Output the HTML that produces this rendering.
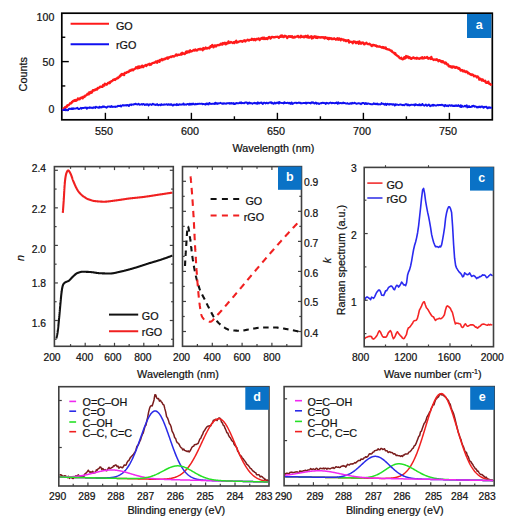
<!DOCTYPE html>
<html><head><meta charset="utf-8"><style>
html,body{margin:0;padding:0;background:#fff;}
body{width:512px;height:521px;overflow:hidden;}
svg{display:block;}
text{font-family:"Liberation Sans", sans-serif;}
</style></head><body>
<svg width="512" height="521" viewBox="0 0 512 521">
<rect width="512" height="521" fill="#fff"/>
<rect x="61.80" y="13.20" width="430.50" height="106.60" fill="none" stroke="#000" stroke-width="1.7"/>
<line x1="61.80" y1="110.30" x2="68.80" y2="110.30" stroke="#000" stroke-width="1.4" />
<line x1="61.80" y1="85.95" x2="65.30" y2="85.95" stroke="#000" stroke-width="1.4" />
<line x1="61.80" y1="61.60" x2="68.80" y2="61.60" stroke="#000" stroke-width="1.4" />
<line x1="61.80" y1="37.25" x2="65.30" y2="37.25" stroke="#000" stroke-width="1.4" />
<line x1="105.40" y1="119.80" x2="105.40" y2="112.80" stroke="#000" stroke-width="1.4" />
<line x1="148.40" y1="119.80" x2="148.40" y2="116.30" stroke="#000" stroke-width="1.4" />
<line x1="191.40" y1="119.80" x2="191.40" y2="112.80" stroke="#000" stroke-width="1.4" />
<line x1="234.40" y1="119.80" x2="234.40" y2="116.30" stroke="#000" stroke-width="1.4" />
<line x1="277.40" y1="119.80" x2="277.40" y2="112.80" stroke="#000" stroke-width="1.4" />
<line x1="320.40" y1="119.80" x2="320.40" y2="116.30" stroke="#000" stroke-width="1.4" />
<line x1="363.40" y1="119.80" x2="363.40" y2="112.80" stroke="#000" stroke-width="1.4" />
<line x1="406.40" y1="119.80" x2="406.40" y2="116.30" stroke="#000" stroke-width="1.4" />
<line x1="449.40" y1="119.80" x2="449.40" y2="112.80" stroke="#000" stroke-width="1.4" />
<path d="M62.30,110.20 L62.90,109.82 L63.50,108.92 L64.10,108.01 L64.70,107.74 L65.30,106.90 L65.90,107.03 L66.50,107.30 L67.10,105.72 L67.70,105.18 L68.30,105.39 L68.90,104.87 L69.50,104.29 L70.10,103.25 L70.70,103.39 L71.30,103.44 L71.90,101.84 L72.50,102.02 L73.10,100.81 L73.70,100.86 L74.30,100.23 L74.90,100.92 L75.50,100.03 L76.10,100.71 L76.70,100.40 L77.30,99.95 L77.90,98.32 L78.50,99.27 L79.10,99.32 L79.70,99.17 L80.30,97.91 L80.90,98.26 L81.50,97.66 L82.10,97.44 L82.70,98.22 L83.30,96.74 L83.90,96.83 L84.50,97.00 L85.10,95.72 L85.70,95.60 L86.30,95.32 L86.90,94.88 L87.50,93.69 L88.10,94.05 L88.70,94.40 L89.30,92.25 L89.90,93.28 L90.50,92.44 L91.10,91.59 L91.70,92.79 L92.30,91.68 L92.90,90.15 L93.50,90.58 L94.10,90.55 L94.70,89.77 L95.30,89.99 L95.90,89.23 L96.50,89.37 L97.10,89.54 L97.70,87.98 L98.30,88.22 L98.90,87.54 L99.50,87.61 L100.10,86.54 L100.70,86.62 L101.30,86.57 L101.90,86.94 L102.50,86.79 L103.10,85.02 L103.70,85.04 L104.30,85.60 L104.90,83.70 L105.50,84.31 L106.10,84.21 L106.70,84.70 L107.30,84.04 L107.90,83.10 L108.50,82.75 L109.10,82.49 L109.70,83.22 L110.30,81.72 L110.90,81.46 L111.50,81.52 L112.10,80.89 L112.70,80.51 L113.30,79.62 L113.90,79.94 L114.50,79.34 L115.10,79.96 L115.70,79.31 L116.30,78.56 L116.90,78.63 L117.50,77.67 L118.10,78.14 L118.70,77.14 L119.30,77.11 L119.90,75.61 L120.50,76.22 L121.10,74.62 L121.70,74.03 L122.30,74.69 L122.90,73.97 L123.50,74.24 L124.10,75.14 L124.70,72.95 L125.30,72.74 L125.90,72.92 L126.50,72.79 L127.10,72.10 L127.70,71.80 L128.30,72.07 L128.90,71.69 L129.50,70.49 L130.10,70.81 L130.70,70.62 L131.30,69.72 L131.90,70.26 L132.50,69.35 L133.10,70.21 L133.70,69.51 L134.30,69.22 L134.90,68.59 L135.50,68.65 L136.10,67.31 L136.70,67.61 L137.30,68.30 L137.90,66.59 L138.50,68.17 L139.10,66.42 L139.70,67.73 L140.30,66.58 L140.90,67.37 L141.50,66.80 L142.10,65.62 L142.70,67.12 L143.30,67.07 L143.90,65.99 L144.50,65.70 L145.10,65.60 L145.70,64.94 L146.30,66.02 L146.90,64.87 L147.50,64.99 L148.10,64.37 L148.70,64.29 L149.30,63.72 L149.90,65.05 L150.50,64.01 L151.10,64.49 L151.70,63.72 L152.30,63.09 L152.90,63.10 L153.50,62.76 L154.10,62.89 L154.70,62.45 L155.30,62.28 L155.90,61.42 L156.50,61.55 L157.10,62.81 L157.70,61.20 L158.30,60.75 L158.90,61.37 L159.50,61.80 L160.10,59.87 L160.70,60.40 L161.30,59.93 L161.90,59.04 L162.50,60.33 L163.10,59.66 L163.70,59.50 L164.30,58.79 L164.90,59.30 L165.50,58.48 L166.10,58.50 L166.70,57.70 L167.30,57.42 L167.90,58.74 L168.50,57.42 L169.10,57.68 L169.70,57.27 L170.30,56.82 L170.90,56.57 L171.50,57.06 L172.10,56.30 L172.70,56.19 L173.30,56.11 L173.90,56.61 L174.50,56.13 L175.10,55.77 L175.70,55.03 L176.30,54.36 L176.90,55.58 L177.50,55.42 L178.10,54.58 L178.70,54.82 L179.30,54.80 L179.90,54.66 L180.50,54.55 L181.10,53.56 L181.70,54.59 L182.30,52.77 L182.90,53.88 L183.50,53.50 L184.10,53.58 L184.70,54.03 L185.30,53.64 L185.90,51.91 L186.50,51.44 L187.10,52.79 L187.70,51.55 L188.30,52.01 L188.90,52.38 L189.50,50.75 L190.10,50.33 L190.70,51.61 L191.30,51.35 L191.90,51.04 L192.50,51.08 L193.10,50.41 L193.70,49.89 L194.30,50.56 L194.90,49.95 L195.50,49.42 L196.10,50.58 L196.70,50.12 L197.30,50.27 L197.90,49.31 L198.50,49.38 L199.10,49.06 L199.70,49.01 L200.30,49.54 L200.90,48.84 L201.50,49.41 L202.10,49.29 L202.70,50.20 L203.30,48.04 L203.90,49.30 L204.50,48.60 L205.10,48.54 L205.70,47.56 L206.30,48.05 L206.90,48.65 L207.50,48.04 L208.10,48.01 L208.70,47.66 L209.30,48.40 L209.90,47.56 L210.50,46.11 L211.10,46.86 L211.70,45.93 L212.30,44.98 L212.90,46.43 L213.50,47.36 L214.10,46.39 L214.70,45.46 L215.30,45.39 L215.90,46.43 L216.50,45.64 L217.10,45.38 L217.70,45.12 L218.30,44.98 L218.90,45.26 L219.50,44.93 L220.10,44.56 L220.70,43.65 L221.30,44.44 L221.90,43.59 L222.50,44.54 L223.10,43.00 L223.70,43.57 L224.30,43.55 L224.90,42.66 L225.50,44.39 L226.10,44.14 L226.70,42.89 L227.30,43.54 L227.90,43.22 L228.50,41.34 L229.10,42.98 L229.70,42.71 L230.30,42.71 L230.90,41.93 L231.50,42.33 L232.10,42.31 L232.70,43.04 L233.30,42.44 L233.90,42.15 L234.50,42.99 L235.10,41.65 L235.70,41.66 L236.30,40.72 L236.90,42.67 L237.50,42.22 L238.10,42.11 L238.70,41.87 L239.30,41.45 L239.90,41.44 L240.50,41.07 L241.10,41.02 L241.70,41.09 L242.30,41.89 L242.90,41.23 L243.50,40.78 L244.10,40.39 L244.70,40.28 L245.30,41.54 L245.90,40.81 L246.50,40.47 L247.10,40.14 L247.70,39.61 L248.30,40.16 L248.90,40.65 L249.50,39.82 L250.10,39.84 L250.70,39.77 L251.30,39.90 L251.90,38.81 L252.50,39.55 L253.10,39.11 L253.70,40.08 L254.30,39.02 L254.90,39.76 L255.50,40.26 L256.10,39.08 L256.70,38.84 L257.30,39.25 L257.90,39.06 L258.50,38.39 L259.10,39.19 L259.70,40.05 L260.30,38.61 L260.90,38.57 L261.50,37.99 L262.10,38.74 L262.70,37.72 L263.30,37.73 L263.90,39.09 L264.50,37.70 L265.10,38.82 L265.70,39.01 L266.30,38.18 L266.90,38.29 L267.50,39.06 L268.10,37.70 L268.70,37.40 L269.30,36.88 L269.90,37.66 L270.50,38.46 L271.10,38.08 L271.70,36.88 L272.30,36.86 L272.90,37.00 L273.50,37.41 L274.10,37.05 L274.70,37.23 L275.30,37.21 L275.90,36.79 L276.50,36.89 L277.10,36.98 L277.70,36.75 L278.30,37.05 L278.90,37.83 L279.50,37.03 L280.10,36.67 L280.70,35.61 L281.30,36.84 L281.90,35.43 L282.50,35.76 L283.10,37.12 L283.70,37.04 L284.30,36.54 L284.90,35.62 L285.50,36.44 L286.10,36.28 L286.70,37.09 L287.30,38.09 L287.90,36.89 L288.50,36.31 L289.10,36.10 L289.70,36.79 L290.30,36.74 L290.90,36.17 L291.50,36.94 L292.10,36.20 L292.70,37.56 L293.30,37.54 L293.90,37.55 L294.50,36.61 L295.10,37.20 L295.70,36.81 L296.30,36.64 L296.90,36.66 L297.50,36.08 L298.10,35.98 L298.70,37.31 L299.30,36.70 L299.90,36.94 L300.50,37.39 L301.10,35.74 L301.70,36.29 L302.30,36.86 L302.90,36.98 L303.50,36.50 L304.10,37.34 L304.70,36.84 L305.30,35.98 L305.90,36.14 L306.50,37.18 L307.10,36.98 L307.70,35.57 L308.30,37.54 L308.90,37.11 L309.50,37.58 L310.10,36.58 L310.70,36.67 L311.30,36.21 L311.90,38.46 L312.50,36.88 L313.10,37.99 L313.70,36.70 L314.30,37.24 L314.90,36.20 L315.50,37.02 L316.10,37.90 L316.70,36.61 L317.30,38.06 L317.90,37.66 L318.50,36.88 L319.10,37.25 L319.70,37.32 L320.30,37.62 L320.90,37.37 L321.50,37.24 L322.10,37.60 L322.70,37.22 L323.30,37.11 L323.90,37.90 L324.50,38.51 L325.10,37.11 L325.70,38.09 L326.30,37.75 L326.90,37.60 L327.50,38.76 L328.10,37.99 L328.70,39.25 L329.30,37.94 L329.90,38.70 L330.50,38.39 L331.10,38.14 L331.70,39.00 L332.30,38.62 L332.90,39.14 L333.50,38.81 L334.10,38.25 L334.70,38.91 L335.30,39.07 L335.90,39.68 L336.50,38.63 L337.10,39.23 L337.70,38.29 L338.30,39.79 L338.90,38.83 L339.50,38.47 L340.10,39.60 L340.70,40.39 L341.30,38.90 L341.90,39.25 L342.50,39.55 L343.10,39.42 L343.70,40.44 L344.30,39.85 L344.90,40.02 L345.50,40.93 L346.10,40.26 L346.70,41.11 L347.30,40.41 L347.90,40.40 L348.50,40.17 L349.10,42.52 L349.70,41.35 L350.30,41.82 L350.90,41.78 L351.50,42.02 L352.10,42.07 L352.70,43.30 L353.30,41.63 L353.90,41.41 L354.50,41.83 L355.10,41.71 L355.70,43.04 L356.30,43.16 L356.90,42.16 L357.50,41.97 L358.10,42.66 L358.70,43.77 L359.30,41.31 L359.90,43.38 L360.50,42.48 L361.10,43.81 L361.70,42.61 L362.30,43.15 L362.90,42.48 L363.50,42.87 L364.10,44.36 L364.70,44.10 L365.30,43.45 L365.90,43.25 L366.50,42.73 L367.10,43.73 L367.70,44.05 L368.30,44.13 L368.90,44.24 L369.50,43.74 L370.10,44.50 L370.70,44.64 L371.30,45.57 L371.90,46.05 L372.50,44.99 L373.10,44.76 L373.70,45.33 L374.30,45.15 L374.90,45.23 L375.50,45.79 L376.10,45.36 L376.70,46.51 L377.30,46.24 L377.90,46.61 L378.50,46.52 L379.10,46.35 L379.70,46.38 L380.30,46.97 L380.90,46.95 L381.50,47.58 L382.10,47.61 L382.70,46.96 L383.30,48.00 L383.90,47.33 L384.50,47.95 L385.10,48.34 L385.70,47.47 L386.30,48.97 L386.90,49.22 L387.50,49.26 L388.10,49.34 L388.70,49.61 L389.30,49.51 L389.90,50.20 L390.50,50.32 L391.10,51.04 L391.70,50.64 L392.30,51.93 L392.90,52.32 L393.50,52.61 L394.10,52.90 L394.70,53.96 L395.30,53.09 L395.90,54.81 L396.50,55.12 L397.10,55.65 L397.70,56.26 L398.30,56.19 L398.90,56.97 L399.50,58.00 L400.10,58.31 L400.70,58.52 L401.30,57.71 L401.90,59.02 L402.50,59.36 L403.10,59.16 L403.70,58.53 L404.30,57.26 L404.90,58.55 L405.50,57.68 L406.10,56.06 L406.70,57.65 L407.30,56.43 L407.90,56.52 L408.50,56.95 L409.10,58.16 L409.70,57.27 L410.30,57.77 L410.90,58.78 L411.50,58.80 L412.10,57.89 L412.70,57.89 L413.30,57.33 L413.90,57.69 L414.50,58.37 L415.10,58.36 L415.70,58.19 L416.30,58.73 L416.90,57.67 L417.50,58.11 L418.10,58.58 L418.70,58.50 L419.30,58.79 L419.90,58.39 L420.50,57.97 L421.10,58.37 L421.70,57.56 L422.30,57.18 L422.90,58.51 L423.50,58.13 L424.10,58.36 L424.70,57.16 L425.30,57.96 L425.90,57.83 L426.50,57.68 L427.10,56.86 L427.70,58.03 L428.30,58.80 L428.90,58.54 L429.50,58.00 L430.10,58.42 L430.70,58.95 L431.30,56.92 L431.90,58.59 L432.50,59.09 L433.10,59.28 L433.70,60.00 L434.30,59.77 L434.90,59.40 L435.50,59.52 L436.10,59.94 L436.70,59.28 L437.30,59.72 L437.90,60.42 L438.50,61.20 L439.10,60.09 L439.70,60.35 L440.30,60.71 L440.90,61.64 L441.50,61.08 L442.10,62.25 L442.70,61.09 L443.30,61.87 L443.90,62.18 L444.50,63.10 L445.10,63.60 L445.70,62.42 L446.30,63.21 L446.90,64.47 L447.50,64.40 L448.10,64.39 L448.70,66.36 L449.30,66.36 L449.90,66.57 L450.50,66.16 L451.10,67.22 L451.70,66.59 L452.30,67.51 L452.90,66.41 L453.50,66.55 L454.10,67.28 L454.70,66.84 L455.30,67.77 L455.90,67.63 L456.50,67.05 L457.10,67.80 L457.70,67.72 L458.30,68.68 L458.90,67.98 L459.50,68.36 L460.10,69.62 L460.70,70.54 L461.30,70.70 L461.90,69.87 L462.50,70.29 L463.10,71.42 L463.70,70.76 L464.30,70.59 L464.90,71.58 L465.50,72.11 L466.10,71.66 L466.70,71.47 L467.30,71.88 L467.90,73.42 L468.50,72.84 L469.10,73.48 L469.70,73.96 L470.30,74.47 L470.90,74.16 L471.50,74.92 L472.10,74.35 L472.70,74.93 L473.30,74.79 L473.90,76.35 L474.50,75.92 L475.10,75.76 L475.70,76.26 L476.30,76.61 L476.90,77.44 L477.50,76.34 L478.10,76.96 L478.70,77.64 L479.30,79.67 L479.90,79.01 L480.50,78.66 L481.10,79.44 L481.70,80.54 L482.30,79.46 L482.90,79.67 L483.50,80.92 L484.10,80.80 L484.70,81.21 L485.30,80.82 L485.90,82.60 L486.50,82.80 L487.10,82.45 L487.70,82.87 L488.30,81.60 L488.90,83.56 L489.50,83.43 L490.10,84.19 L490.70,84.72 L491.30,84.50 L491.90,84.09" fill="none" stroke="#ff1a1a" stroke-width="2.3" stroke-linejoin="round"/>
<path d="M62.30,110.55 L62.90,110.01 L63.50,110.08 L64.10,109.88 L64.70,109.89 L65.30,109.01 L65.90,110.33 L66.50,109.86 L67.10,110.11 L67.70,110.37 L68.30,109.51 L68.90,108.69 L69.50,108.97 L70.10,108.77 L70.70,108.97 L71.30,109.13 L71.90,108.22 L72.50,109.08 L73.10,108.27 L73.70,108.92 L74.30,108.69 L74.90,108.55 L75.50,108.58 L76.10,108.33 L76.70,108.24 L77.30,107.76 L77.90,108.36 L78.50,109.06 L79.10,109.06 L79.70,108.75 L80.30,108.46 L80.90,107.86 L81.50,108.67 L82.10,108.03 L82.70,107.99 L83.30,107.87 L83.90,107.98 L84.50,107.74 L85.10,107.85 L85.70,107.42 L86.30,107.67 L86.90,108.70 L87.50,107.73 L88.10,107.64 L88.70,107.92 L89.30,107.97 L89.90,107.21 L90.50,107.55 L91.10,107.97 L91.70,107.69 L92.30,107.61 L92.90,108.16 L93.50,107.24 L94.10,107.52 L94.70,107.26 L95.30,108.04 L95.90,106.64 L96.50,107.13 L97.10,107.16 L97.70,107.62 L98.30,107.57 L98.90,107.86 L99.50,106.65 L100.10,107.56 L100.70,107.12 L101.30,106.95 L101.90,107.41 L102.50,106.81 L103.10,106.32 L103.70,106.99 L104.30,106.52 L104.90,106.84 L105.50,107.23 L106.10,107.18 L106.70,107.67 L107.30,106.93 L107.90,106.38 L108.50,106.66 L109.10,106.57 L109.70,106.43 L110.30,107.06 L110.90,106.60 L111.50,106.03 L112.10,107.06 L112.70,106.69 L113.30,106.84 L113.90,106.69 L114.50,106.85 L115.10,106.56 L115.70,106.99 L116.30,106.61 L116.90,106.53 L117.50,106.48 L118.10,105.67 L118.70,106.13 L119.30,106.03 L119.90,106.15 L120.50,105.46 L121.10,106.59 L121.70,105.91 L122.30,105.32 L122.90,105.05 L123.50,105.55 L124.10,105.56 L124.70,105.24 L125.30,105.50 L125.90,105.14 L126.50,105.55 L127.10,104.98 L127.70,105.19 L128.30,105.53 L128.90,106.11 L129.50,104.62 L130.10,104.78 L130.70,104.57 L131.30,105.17 L131.90,104.34 L132.50,104.56 L133.10,104.69 L133.70,104.27 L134.30,104.24 L134.90,104.39 L135.50,103.71 L136.10,103.94 L136.70,104.32 L137.30,104.52 L137.90,104.37 L138.50,103.72 L139.10,104.23 L139.70,104.72 L140.30,104.62 L140.90,104.37 L141.50,104.05 L142.10,104.65 L142.70,104.17 L143.30,103.94 L143.90,104.09 L144.50,104.99 L145.10,104.50 L145.70,104.88 L146.30,104.23 L146.90,104.80 L147.50,104.19 L148.10,104.37 L148.70,105.44 L149.30,104.75 L149.90,104.25 L150.50,104.42 L151.10,104.59 L151.70,104.95 L152.30,104.28 L152.90,103.79 L153.50,104.38 L154.10,104.50 L154.70,104.55 L155.30,105.03 L155.90,104.64 L156.50,104.85 L157.10,104.09 L157.70,104.88 L158.30,105.38 L158.90,104.85 L159.50,104.65 L160.10,104.62 L160.70,105.28 L161.30,104.20 L161.90,104.53 L162.50,104.76 L163.10,104.88 L163.70,104.41 L164.30,104.71 L164.90,104.48 L165.50,104.64 L166.10,104.54 L166.70,104.14 L167.30,104.59 L167.90,104.95 L168.50,104.21 L169.10,104.50 L169.70,104.86 L170.30,104.17 L170.90,104.67 L171.50,104.17 L172.10,105.04 L172.70,105.50 L173.30,105.38 L173.90,104.48 L174.50,104.85 L175.10,104.60 L175.70,104.58 L176.30,105.15 L176.90,103.99 L177.50,104.93 L178.10,104.48 L178.70,105.05 L179.30,104.54 L179.90,104.19 L180.50,104.55 L181.10,104.72 L181.70,104.43 L182.30,104.59 L182.90,104.17 L183.50,103.51 L184.10,104.71 L184.70,104.61 L185.30,104.37 L185.90,104.33 L186.50,104.69 L187.10,104.08 L187.70,103.96 L188.30,104.15 L188.90,104.68 L189.50,103.64 L190.10,104.65 L190.70,103.90 L191.30,103.70 L191.90,104.62 L192.50,104.06 L193.10,103.56 L193.70,103.92 L194.30,104.42 L194.90,104.50 L195.50,103.84 L196.10,104.16 L196.70,104.26 L197.30,103.70 L197.90,104.08 L198.50,103.91 L199.10,103.69 L199.70,103.70 L200.30,103.91 L200.90,103.88 L201.50,103.62 L202.10,103.66 L202.70,104.27 L203.30,103.89 L203.90,104.15 L204.50,104.26 L205.10,104.01 L205.70,104.67 L206.30,103.41 L206.90,104.05 L207.50,103.59 L208.10,104.45 L208.70,104.37 L209.30,102.90 L209.90,103.28 L210.50,103.92 L211.10,103.95 L211.70,103.92 L212.30,103.58 L212.90,103.78 L213.50,103.84 L214.10,103.54 L214.70,103.97 L215.30,102.64 L215.90,103.78 L216.50,103.10 L217.10,103.89 L217.70,103.40 L218.30,103.12 L218.90,103.62 L219.50,103.09 L220.10,103.08 L220.70,102.81 L221.30,103.41 L221.90,103.61 L222.50,103.81 L223.10,103.33 L223.70,103.80 L224.30,103.38 L224.90,103.32 L225.50,103.58 L226.10,103.77 L226.70,103.20 L227.30,103.23 L227.90,103.26 L228.50,103.35 L229.10,102.95 L229.70,103.71 L230.30,103.14 L230.90,103.48 L231.50,102.96 L232.10,103.43 L232.70,103.43 L233.30,103.10 L233.90,104.08 L234.50,103.41 L235.10,103.97 L235.70,103.64 L236.30,102.98 L236.90,103.09 L237.50,103.41 L238.10,103.26 L238.70,103.25 L239.30,103.11 L239.90,102.50 L240.50,103.12 L241.10,102.32 L241.70,103.35 L242.30,102.91 L242.90,102.91 L243.50,103.10 L244.10,103.30 L244.70,102.61 L245.30,102.48 L245.90,102.75 L246.50,102.35 L247.10,102.78 L247.70,103.80 L248.30,102.73 L248.90,103.41 L249.50,102.60 L250.10,103.27 L250.70,103.01 L251.30,103.11 L251.90,103.36 L252.50,103.83 L253.10,103.20 L253.70,103.17 L254.30,102.73 L254.90,103.35 L255.50,103.01 L256.10,103.44 L256.70,103.09 L257.30,103.80 L257.90,102.30 L258.50,102.98 L259.10,103.44 L259.70,102.95 L260.30,102.77 L260.90,102.97 L261.50,102.53 L262.10,103.12 L262.70,104.05 L263.30,103.53 L263.90,102.62 L264.50,102.71 L265.10,102.90 L265.70,103.46 L266.30,102.73 L266.90,102.78 L267.50,103.40 L268.10,103.39 L268.70,102.90 L269.30,102.60 L269.90,102.42 L270.50,102.76 L271.10,102.14 L271.70,103.33 L272.30,102.78 L272.90,103.22 L273.50,103.77 L274.10,103.49 L274.70,102.56 L275.30,103.37 L275.90,103.48 L276.50,102.72 L277.10,102.64 L277.70,102.97 L278.30,102.37 L278.90,103.60 L279.50,102.05 L280.10,102.57 L280.70,102.90 L281.30,102.92 L281.90,103.07 L282.50,103.11 L283.10,102.92 L283.70,103.46 L284.30,102.15 L284.90,103.00 L285.50,102.72 L286.10,103.05 L286.70,103.09 L287.30,102.64 L287.90,102.74 L288.50,103.32 L289.10,103.14 L289.70,102.73 L290.30,103.82 L290.90,103.92 L291.50,102.42 L292.10,103.12 L292.70,104.00 L293.30,103.31 L293.90,103.09 L294.50,102.92 L295.10,102.79 L295.70,102.92 L296.30,102.78 L296.90,103.30 L297.50,102.85 L298.10,102.83 L298.70,102.53 L299.30,102.99 L299.90,102.65 L300.50,102.94 L301.10,103.43 L301.70,103.16 L302.30,103.22 L302.90,103.16 L303.50,103.04 L304.10,102.97 L304.70,102.90 L305.30,103.33 L305.90,102.59 L306.50,103.56 L307.10,103.04 L307.70,102.73 L308.30,102.84 L308.90,102.76 L309.50,103.10 L310.10,102.75 L310.70,103.50 L311.30,102.73 L311.90,102.14 L312.50,102.76 L313.10,102.25 L313.70,103.04 L314.30,103.48 L314.90,103.32 L315.50,102.53 L316.10,102.76 L316.70,103.78 L317.30,103.20 L317.90,103.08 L318.50,103.50 L319.10,104.06 L319.70,103.60 L320.30,103.14 L320.90,103.23 L321.50,103.34 L322.10,102.85 L322.70,102.68 L323.30,103.12 L323.90,102.73 L324.50,103.09 L325.10,103.15 L325.70,104.05 L326.30,102.78 L326.90,103.08 L327.50,103.06 L328.10,103.31 L328.70,103.56 L329.30,102.94 L329.90,102.82 L330.50,102.49 L331.10,102.78 L331.70,103.37 L332.30,103.18 L332.90,102.76 L333.50,103.02 L334.10,103.19 L334.70,103.38 L335.30,102.95 L335.90,103.09 L336.50,102.46 L337.10,102.74 L337.70,103.85 L338.30,102.33 L338.90,103.07 L339.50,103.30 L340.10,103.07 L340.70,102.90 L341.30,103.20 L341.90,103.23 L342.50,103.20 L343.10,102.49 L343.70,103.19 L344.30,102.91 L344.90,103.04 L345.50,103.35 L346.10,103.52 L346.70,103.63 L347.30,103.08 L347.90,103.65 L348.50,103.76 L349.10,103.75 L349.70,103.85 L350.30,103.24 L350.90,103.24 L351.50,103.64 L352.10,102.77 L352.70,103.41 L353.30,103.12 L353.90,103.20 L354.50,102.66 L355.10,103.01 L355.70,103.36 L356.30,103.74 L356.90,103.79 L357.50,103.37 L358.10,103.34 L358.70,103.10 L359.30,103.60 L359.90,103.35 L360.50,103.71 L361.10,104.18 L361.70,103.48 L362.30,102.91 L362.90,103.18 L363.50,102.95 L364.10,103.07 L364.70,104.09 L365.30,103.67 L365.90,102.99 L366.50,103.88 L367.10,104.14 L367.70,103.50 L368.30,103.40 L368.90,103.55 L369.50,103.81 L370.10,103.97 L370.70,104.21 L371.30,104.24 L371.90,104.25 L372.50,104.33 L373.10,104.07 L373.70,103.21 L374.30,103.79 L374.90,103.99 L375.50,103.73 L376.10,104.26 L376.70,103.77 L377.30,103.57 L377.90,104.53 L378.50,104.24 L379.10,104.08 L379.70,104.38 L380.30,104.46 L380.90,104.19 L381.50,103.09 L382.10,103.82 L382.70,103.92 L383.30,103.73 L383.90,104.22 L384.50,104.64 L385.10,103.99 L385.70,103.74 L386.30,105.03 L386.90,104.05 L387.50,103.76 L388.10,104.36 L388.70,104.46 L389.30,104.02 L389.90,104.64 L390.50,104.14 L391.10,103.98 L391.70,104.44 L392.30,104.69 L392.90,104.15 L393.50,104.55 L394.10,104.39 L394.70,105.58 L395.30,104.18 L395.90,105.03 L396.50,104.47 L397.10,104.45 L397.70,104.80 L398.30,104.89 L398.90,105.05 L399.50,104.69 L400.10,104.33 L400.70,104.36 L401.30,104.80 L401.90,104.84 L402.50,105.17 L403.10,104.80 L403.70,105.06 L404.30,105.26 L404.90,104.73 L405.50,104.08 L406.10,104.21 L406.70,104.12 L407.30,105.34 L407.90,104.38 L408.50,105.22 L409.10,104.98 L409.70,105.44 L410.30,105.17 L410.90,104.73 L411.50,104.71 L412.10,104.83 L412.70,104.88 L413.30,104.61 L413.90,104.82 L414.50,105.48 L415.10,104.17 L415.70,104.97 L416.30,104.51 L416.90,104.96 L417.50,105.23 L418.10,104.88 L418.70,105.23 L419.30,104.29 L419.90,105.38 L420.50,104.71 L421.10,105.21 L421.70,105.05 L422.30,103.95 L422.90,104.70 L423.50,105.10 L424.10,105.65 L424.70,105.15 L425.30,105.15 L425.90,104.50 L426.50,105.65 L427.10,105.81 L427.70,105.11 L428.30,105.03 L428.90,104.48 L429.50,105.49 L430.10,106.24 L430.70,105.46 L431.30,105.69 L431.90,105.41 L432.50,104.82 L433.10,105.76 L433.70,104.75 L434.30,105.17 L434.90,105.38 L435.50,105.64 L436.10,105.47 L436.70,105.47 L437.30,105.03 L437.90,104.83 L438.50,105.39 L439.10,105.10 L439.70,104.87 L440.30,104.90 L440.90,105.23 L441.50,104.70 L442.10,104.92 L442.70,104.82 L443.30,105.56 L443.90,105.67 L444.50,106.33 L445.10,104.94 L445.70,105.29 L446.30,105.94 L446.90,105.51 L447.50,105.48 L448.10,106.31 L448.70,105.51 L449.30,105.20 L449.90,105.16 L450.50,105.83 L451.10,105.84 L451.70,105.19 L452.30,105.36 L452.90,105.99 L453.50,106.03 L454.10,105.56 L454.70,106.08 L455.30,106.08 L455.90,105.16 L456.50,105.77 L457.10,106.08 L457.70,105.70 L458.30,105.10 L458.90,105.86 L459.50,106.30 L460.10,106.65 L460.70,105.16 L461.30,107.10 L461.90,105.63 L462.50,106.49 L463.10,106.62 L463.70,106.54 L464.30,106.23 L464.90,105.73 L465.50,106.47 L466.10,105.96 L466.70,105.26 L467.30,107.42 L467.90,106.60 L468.50,107.06 L469.10,106.00 L469.70,106.97 L470.30,107.05 L470.90,107.06 L471.50,106.46 L472.10,106.01 L472.70,106.45 L473.30,105.67 L473.90,105.90 L474.50,106.65 L475.10,106.24 L475.70,106.61 L476.30,106.66 L476.90,107.51 L477.50,107.29 L478.10,106.78 L478.70,107.32 L479.30,106.56 L479.90,106.77 L480.50,107.31 L481.10,106.48 L481.70,106.90 L482.30,106.52 L482.90,107.13 L483.50,107.78 L484.10,106.86 L484.70,107.29 L485.30,106.88 L485.90,106.82 L486.50,106.82 L487.10,107.94 L487.70,108.34 L488.30,107.63 L488.90,107.19 L489.50,107.80 L490.10,107.42 L490.70,107.92 L491.30,107.75 L491.90,107.79" fill="none" stroke="#1010f0" stroke-width="1.9" stroke-linejoin="round"/>
<text x="54.30" y="20.70" font-size="10.6" text-anchor="end" fill="#111" stroke="#111" stroke-width="0.22" >100</text>
<text x="54.30" y="66.20" font-size="10.6" text-anchor="end" fill="#111" stroke="#111" stroke-width="0.22" >50</text>
<text x="54.30" y="112.60" font-size="10.6" text-anchor="end" fill="#111" stroke="#111" stroke-width="0.22" >0</text>
<text x="103.90" y="134.90" font-size="10.8" text-anchor="middle" fill="#111" stroke="#111" stroke-width="0.22" >550</text>
<text x="189.90" y="134.90" font-size="10.8" text-anchor="middle" fill="#111" stroke="#111" stroke-width="0.22" >600</text>
<text x="275.90" y="134.90" font-size="10.8" text-anchor="middle" fill="#111" stroke="#111" stroke-width="0.22" >650</text>
<text x="361.90" y="134.90" font-size="10.8" text-anchor="middle" fill="#111" stroke="#111" stroke-width="0.22" >700</text>
<text x="447.90" y="134.90" font-size="10.8" text-anchor="middle" fill="#111" stroke="#111" stroke-width="0.22" >750</text>
<text x="273.40" y="151.80" font-size="10.8" text-anchor="middle" fill="#111" stroke="#111" stroke-width="0.22" >Wavelength (nm)</text>
<text transform="translate(26.7,74.3) rotate(-90)" font-size="10.8" text-anchor="middle" fill="#111" stroke="#111" stroke-width="0.22">Counts</text>
<line x1="70.60" y1="23.70" x2="109.00" y2="23.70" stroke="#ff1a1a" stroke-width="2" />
<line x1="70.60" y1="44.30" x2="109.00" y2="44.30" stroke="#1010f0" stroke-width="2" />
<text x="115.90" y="30.00" font-size="10.8" text-anchor="start" fill="#111" stroke="#111" stroke-width="0.22" >GO</text>
<text x="115.90" y="49.10" font-size="10.8" text-anchor="start" fill="#111" stroke="#111" stroke-width="0.22" >rGO</text>
<rect x="467.00" y="14.00" width="24.30" height="24.00" fill="#0a72c6"/>
<text x="479.20" y="29.20" font-size="12.5" font-weight="bold" text-anchor="middle" fill="#fff">a</text>
<path d="M62.80,212.90 L62.83,212.50 L62.86,212.10 L62.89,211.70 L62.92,211.30 L62.96,210.91 L62.99,210.51 L63.02,210.11 L63.05,209.71 L63.08,209.31 L63.11,208.91 L63.14,208.51 L63.17,208.11 L63.20,207.72 L63.23,207.32 L63.26,206.92 L63.29,206.52 L63.32,206.12 L63.34,205.72 L63.37,205.32 L63.40,204.92 L63.43,204.52 L63.46,204.12 L63.49,203.73 L63.52,203.33 L63.54,202.93 L63.57,202.53 L63.60,202.13 L63.63,201.73 L63.66,201.33 L63.68,200.93 L63.71,200.53 L63.74,200.13 L63.76,199.74 L63.79,199.34 L63.82,198.94 L63.84,198.54 L63.87,198.14 L63.89,197.74 L63.92,197.34 L63.94,196.94 L63.96,196.54 L63.98,196.14 L64.01,195.74 L64.03,195.34 L64.05,194.94 L64.07,194.54 L64.09,194.14 L64.11,193.74 L64.13,193.34 L64.15,192.94 L64.18,192.54 L64.20,192.14 L64.22,191.74 L64.24,191.34 L64.26,190.94 L64.28,190.54 L64.31,190.15 L64.33,189.75 L64.35,189.35 L64.38,188.95 L64.40,188.55 L64.43,188.15 L64.45,187.75 L64.48,187.35 L64.51,186.95 L64.54,186.55 L64.57,186.16 L64.60,185.76 L64.63,185.36 L64.66,184.96 L64.69,184.56 L64.73,184.17 L64.76,183.77 L64.80,183.36 L64.84,182.96 L64.87,182.56 L64.91,182.15 L64.95,181.74 L64.99,181.34 L65.03,180.93 L65.07,180.52 L65.12,180.12 L65.16,179.71 L65.21,179.31 L65.26,178.90 L65.31,178.50 L65.37,178.10 L65.43,177.70 L65.49,177.30 L65.55,176.91 L65.62,176.52 L65.69,176.13 L65.76,175.74 L65.84,175.36 L65.92,174.98 L66.00,174.60 L66.09,174.23 L66.18,173.86 L66.29,173.48 L66.43,173.05 L66.61,172.60 L66.80,172.14 L67.02,171.69 L67.25,171.29 L67.48,170.93 L67.72,170.65 L67.96,170.47 L68.19,170.40 L68.43,170.47 L68.68,170.67 L68.95,170.97 L69.22,171.33 L69.48,171.74 L69.73,172.16 L69.96,172.55 L70.16,172.91 L70.34,173.25 L70.52,173.59 L70.69,173.95 L70.85,174.31 L71.00,174.67 L71.15,175.04 L71.29,175.41 L71.43,175.79 L71.57,176.17 L71.70,176.55 L71.83,176.93 L71.96,177.31 L72.09,177.70 L72.22,178.08 L72.34,178.47 L72.47,178.86 L72.60,179.24 L72.74,179.62 L72.87,180.00 L73.01,180.38 L73.15,180.76 L73.30,181.13 L73.46,181.50 L73.62,181.87 L73.78,182.23 L73.93,182.60 L74.09,182.98 L74.25,183.35 L74.41,183.72 L74.57,184.09 L74.74,184.47 L74.90,184.84 L75.06,185.21 L75.23,185.58 L75.40,185.95 L75.57,186.32 L75.74,186.69 L75.91,187.06 L76.09,187.42 L76.27,187.78 L76.45,188.14 L76.64,188.50 L76.82,188.85 L77.02,189.20 L77.21,189.54 L77.41,189.88 L77.62,190.22 L77.82,190.55 L78.04,190.87 L78.25,191.19 L78.48,191.51 L78.71,191.82 L78.95,192.13 L79.20,192.43 L79.46,192.74 L79.72,193.04 L80.00,193.34 L80.28,193.63 L80.56,193.92 L80.86,194.21 L81.15,194.49 L81.45,194.77 L81.76,195.04 L82.06,195.31 L82.37,195.56 L82.68,195.82 L82.99,196.06 L83.30,196.30 L83.62,196.54 L83.94,196.77 L84.27,197.00 L84.60,197.23 L84.94,197.46 L85.28,197.68 L85.62,197.89 L85.97,198.10 L86.32,198.30 L86.68,198.50 L87.04,198.68 L87.40,198.85 L87.76,199.02 L88.12,199.17 L88.48,199.31 L88.85,199.45 L89.22,199.59 L89.60,199.73 L89.98,199.86 L90.36,199.99 L90.74,200.12 L91.13,200.24 L91.52,200.36 L91.91,200.47 L92.30,200.58 L92.69,200.68 L93.08,200.77 L93.48,200.86 L93.87,200.93 L94.26,201.00 L94.66,201.06 L95.05,201.11 L95.44,201.15 L95.84,201.19 L96.23,201.23 L96.63,201.27 L97.02,201.31 L97.42,201.35 L97.82,201.39 L98.22,201.42 L98.62,201.46 L99.02,201.49 L99.42,201.52 L99.82,201.55 L100.22,201.57 L100.63,201.60 L101.03,201.62 L101.43,201.64 L101.83,201.66 L102.23,201.67 L102.63,201.68 L103.03,201.69 L103.43,201.70 L103.83,201.70 L104.23,201.70 L104.63,201.69 L105.03,201.68 L105.43,201.67 L105.82,201.64 L106.22,201.62 L106.62,201.59 L107.02,201.56 L107.42,201.52 L107.82,201.48 L108.21,201.44 L108.61,201.39 L109.01,201.34 L109.41,201.29 L109.81,201.24 L110.20,201.19 L110.60,201.14 L111.00,201.08 L111.40,201.03 L111.79,200.97 L112.19,200.92 L112.59,200.86 L112.99,200.81 L113.38,200.75 L113.78,200.70 L114.18,200.65 L114.57,200.60 L114.97,200.56 L115.37,200.51 L115.76,200.46 L116.16,200.40 L116.56,200.35 L116.95,200.30 L117.35,200.24 L117.75,200.19 L118.14,200.13 L118.54,200.07 L118.93,200.01 L119.33,199.96 L119.73,199.90 L120.12,199.84 L120.52,199.78 L120.91,199.72 L121.31,199.66 L121.70,199.60 L122.10,199.54 L122.49,199.48 L122.89,199.41 L123.29,199.35 L123.68,199.29 L124.08,199.23 L124.47,199.17 L124.87,199.11 L125.26,199.06 L125.66,199.00 L126.06,198.94 L126.45,198.88 L126.85,198.83 L127.24,198.77 L127.64,198.72 L128.04,198.66 L128.43,198.61 L128.83,198.56 L129.23,198.51 L129.62,198.46 L130.02,198.41 L130.42,198.37 L130.81,198.32 L131.21,198.27 L131.61,198.23 L132.01,198.18 L132.40,198.14 L132.80,198.10 L133.20,198.06 L133.60,198.01 L133.99,197.97 L134.39,197.93 L134.79,197.89 L135.19,197.85 L135.59,197.81 L135.99,197.77 L136.38,197.73 L136.78,197.69 L137.18,197.65 L137.58,197.60 L137.98,197.56 L138.37,197.52 L138.77,197.48 L139.17,197.44 L139.57,197.40 L139.96,197.36 L140.36,197.31 L140.76,197.27 L141.16,197.23 L141.56,197.18 L141.95,197.13 L142.35,197.09 L142.75,197.04 L143.14,196.99 L143.54,196.95 L143.94,196.90 L144.33,196.84 L144.73,196.79 L145.13,196.74 L145.52,196.69 L145.92,196.63 L146.32,196.58 L146.71,196.52 L147.11,196.47 L147.50,196.41 L147.90,196.35 L148.29,196.29 L148.69,196.23 L149.09,196.18 L149.48,196.12 L149.88,196.06 L150.27,195.99 L150.67,195.93 L151.06,195.87 L151.46,195.81 L151.85,195.75 L152.25,195.69 L152.64,195.63 L153.04,195.56 L153.43,195.50 L153.83,195.44 L154.23,195.38 L154.62,195.32 L155.02,195.25 L155.41,195.19 L155.81,195.13 L156.20,195.07 L156.60,195.01 L156.99,194.95 L157.39,194.88 L157.78,194.82 L158.18,194.76 L158.57,194.70 L158.97,194.64 L159.37,194.58 L159.76,194.53 L160.16,194.47 L160.55,194.41 L160.95,194.35 L161.34,194.29 L161.74,194.23 L162.13,194.17 L162.53,194.11 L162.93,194.05 L163.32,193.99 L163.72,193.93 L164.11,193.87 L164.51,193.81 L164.90,193.75 L165.30,193.69 L165.69,193.63 L166.09,193.57 L166.48,193.51 L166.88,193.45 L167.28,193.39 L167.67,193.33 L168.07,193.27 L168.46,193.21 L168.86,193.15 L169.25,193.09 L169.65,193.03 L170.04,192.97 L170.44,192.91 L170.84,192.85 L171.23,192.79 L171.63,192.73 L172.02,192.67 L172.42,192.61" fill="none" stroke="#f02020" stroke-width="2.1" stroke-linejoin="round"/>
<path d="M56.30,338.50 L56.40,338.11 L56.49,337.72 L56.59,337.33 L56.69,336.94 L56.78,336.55 L56.87,336.16 L56.96,335.77 L57.05,335.38 L57.13,334.99 L57.21,334.60 L57.29,334.21 L57.36,333.82 L57.43,333.42 L57.50,333.03 L57.56,332.64 L57.61,332.24 L57.67,331.85 L57.72,331.45 L57.78,331.06 L57.83,330.66 L57.88,330.26 L57.93,329.87 L57.98,329.47 L58.02,329.07 L58.07,328.68 L58.11,328.28 L58.16,327.88 L58.20,327.48 L58.24,327.08 L58.29,326.69 L58.33,326.29 L58.37,325.89 L58.41,325.49 L58.44,325.09 L58.48,324.69 L58.52,324.29 L58.56,323.90 L58.60,323.50 L58.64,323.10 L58.67,322.70 L58.71,322.30 L58.75,321.90 L58.79,321.50 L58.82,321.10 L58.86,320.71 L58.90,320.31 L58.94,319.91 L58.98,319.51 L59.02,319.11 L59.06,318.71 L59.10,318.32 L59.14,317.92 L59.17,317.52 L59.21,317.12 L59.25,316.72 L59.29,316.33 L59.33,315.93 L59.36,315.53 L59.40,315.13 L59.44,314.73 L59.47,314.33 L59.51,313.94 L59.54,313.54 L59.58,313.14 L59.62,312.74 L59.65,312.34 L59.69,311.94 L59.72,311.55 L59.76,311.15 L59.79,310.75 L59.83,310.35 L59.86,309.95 L59.90,309.55 L59.94,309.15 L59.97,308.76 L60.01,308.36 L60.04,307.96 L60.08,307.56 L60.11,307.16 L60.15,306.76 L60.19,306.37 L60.22,305.97 L60.26,305.57 L60.30,305.17 L60.33,304.77 L60.37,304.37 L60.41,303.98 L60.44,303.58 L60.48,303.18 L60.52,302.78 L60.56,302.38 L60.60,301.98 L60.63,301.59 L60.67,301.19 L60.70,300.79 L60.74,300.39 L60.78,299.99 L60.81,299.59 L60.85,299.19 L60.88,298.79 L60.92,298.40 L60.96,298.00 L60.99,297.60 L61.03,297.20 L61.07,296.80 L61.11,296.40 L61.15,296.01 L61.19,295.61 L61.23,295.21 L61.28,294.81 L61.32,294.42 L61.37,294.02 L61.42,293.62 L61.47,293.23 L61.52,292.83 L61.57,292.43 L61.63,292.03 L61.68,291.62 L61.73,291.22 L61.78,290.81 L61.84,290.40 L61.90,289.99 L61.96,289.58 L62.02,289.17 L62.09,288.76 L62.15,288.36 L62.23,287.96 L62.31,287.57 L62.39,287.18 L62.48,286.79 L62.57,286.41 L62.67,286.04 L62.78,285.68 L62.89,285.32 L63.01,284.97 L63.16,284.63 L63.36,284.28 L63.59,283.94 L63.85,283.61 L64.13,283.29 L64.43,282.99 L64.72,282.72 L65.02,282.48 L65.33,282.28 L65.67,282.09 L66.04,281.93 L66.41,281.77 L66.80,281.62 L67.19,281.48 L67.58,281.33 L67.96,281.17 L68.32,281.00 L68.66,280.81 L68.98,280.59 L69.28,280.35 L69.58,280.10 L69.86,279.82 L70.14,279.54 L70.42,279.24 L70.69,278.94 L70.96,278.63 L71.23,278.32 L71.50,278.02 L71.78,277.72 L72.06,277.42 L72.34,277.14 L72.64,276.87 L72.94,276.60 L73.23,276.32 L73.53,276.03 L73.83,275.75 L74.13,275.46 L74.43,275.17 L74.73,274.89 L75.04,274.62 L75.35,274.35 L75.67,274.10 L75.99,273.86 L76.31,273.63 L76.64,273.43 L76.97,273.24 L77.31,273.08 L77.66,272.94 L78.02,272.80 L78.39,272.66 L78.76,272.52 L79.15,272.39 L79.54,272.27 L79.93,272.15 L80.33,272.05 L80.73,271.95 L81.13,271.88 L81.54,271.82 L81.94,271.77 L82.33,271.75 L82.73,271.75 L83.12,271.75 L83.52,271.76 L83.92,271.76 L84.31,271.77 L84.71,271.78 L85.11,271.79 L85.51,271.80 L85.92,271.82 L86.32,271.83 L86.72,271.85 L87.12,271.86 L87.52,271.88 L87.92,271.90 L88.33,271.92 L88.73,271.94 L89.13,271.96 L89.53,271.98 L89.93,272.00 L90.32,272.02 L90.72,272.05 L91.12,272.08 L91.52,272.13 L91.92,272.17 L92.31,272.22 L92.71,272.28 L93.11,272.33 L93.50,272.39 L93.90,272.46 L94.29,272.52 L94.69,272.59 L95.09,272.65 L95.48,272.72 L95.88,272.78 L96.28,272.84 L96.67,272.90 L97.07,272.96 L97.46,273.02 L97.86,273.07 L98.26,273.11 L98.66,273.15 L99.05,273.19 L99.45,273.22 L99.85,273.24 L100.25,273.26 L100.65,273.28 L101.05,273.29 L101.45,273.31 L101.85,273.32 L102.25,273.34 L102.65,273.35 L103.05,273.37 L103.45,273.38 L103.85,273.39 L104.25,273.41 L104.65,273.42 L105.05,273.43 L105.45,273.44 L105.85,273.45 L106.25,273.46 L106.65,273.47 L107.05,273.47 L107.45,273.48 L107.85,273.49 L108.25,273.49 L108.65,273.49 L109.05,273.50 L109.45,273.50 L109.85,273.50 L110.24,273.50 L110.64,273.49 L111.04,273.47 L111.43,273.44 L111.83,273.40 L112.22,273.36 L112.62,273.31 L113.02,273.25 L113.41,273.19 L113.81,273.12 L114.20,273.05 L114.59,272.97 L114.99,272.89 L115.38,272.80 L115.78,272.72 L116.17,272.63 L116.56,272.53 L116.96,272.44 L117.35,272.35 L117.74,272.26 L118.13,272.17 L118.53,272.07 L118.92,271.98 L119.31,271.90 L119.70,271.81 L120.09,271.73 L120.48,271.65 L120.87,271.57 L121.26,271.48 L121.65,271.39 L122.04,271.30 L122.43,271.21 L122.82,271.12 L123.21,271.03 L123.60,270.93 L123.99,270.84 L124.38,270.74 L124.76,270.64 L125.15,270.54 L125.54,270.44 L125.93,270.34 L126.32,270.24 L126.70,270.14 L127.09,270.04 L127.48,269.93 L127.86,269.83 L128.25,269.73 L128.64,269.62 L129.02,269.52 L129.41,269.41 L129.79,269.31 L130.18,269.20 L130.56,269.09 L130.95,268.99 L131.33,268.88 L131.72,268.77 L132.10,268.66 L132.49,268.55 L132.87,268.44 L133.25,268.32 L133.64,268.21 L134.02,268.09 L134.40,267.98 L134.79,267.86 L135.17,267.75 L135.55,267.63 L135.94,267.51 L136.32,267.40 L136.70,267.28 L137.08,267.16 L137.47,267.04 L137.85,266.92 L138.23,266.80 L138.61,266.68 L138.99,266.56 L139.38,266.45 L139.76,266.33 L140.14,266.21 L140.52,266.09 L140.90,265.97 L141.28,265.84 L141.66,265.72 L142.04,265.60 L142.42,265.47 L142.80,265.35 L143.18,265.23 L143.56,265.10 L143.94,264.97 L144.32,264.85 L144.70,264.72 L145.08,264.60 L145.46,264.47 L145.84,264.35 L146.22,264.22 L146.60,264.09 L146.98,263.97 L147.36,263.85 L147.74,263.72 L148.12,263.60 L148.50,263.47 L148.88,263.35 L149.27,263.23 L149.65,263.11 L150.03,262.99 L150.41,262.87 L150.79,262.76 L151.18,262.64 L151.56,262.52 L151.94,262.41 L152.33,262.30 L152.71,262.18 L153.09,262.07 L153.48,261.96 L153.86,261.85 L154.25,261.74 L154.63,261.62 L155.02,261.51 L155.40,261.40 L155.78,261.29 L156.17,261.18 L156.55,261.06 L156.94,260.95 L157.32,260.84 L157.70,260.72 L158.08,260.60 L158.47,260.49 L158.85,260.37 L159.23,260.25 L159.61,260.13 L159.99,260.00 L160.37,259.88 L160.75,259.75 L161.13,259.63 L161.51,259.50 L161.89,259.37 L162.27,259.25 L162.64,259.12 L163.02,258.99 L163.40,258.86 L163.78,258.73 L164.16,258.60 L164.53,258.47 L164.91,258.33 L165.29,258.20 L165.67,258.07 L166.04,257.93 L166.42,257.80 L166.80,257.66 L167.17,257.52 L167.55,257.39 L167.92,257.25 L168.30,257.11 L168.67,256.97 L169.05,256.83 L169.42,256.69 L169.80,256.55 L170.17,256.40 L170.55,256.26 L170.92,256.12 L171.29,255.97 L171.67,255.83 L172.04,255.68 L172.41,255.53" fill="none" stroke="#111" stroke-width="2.1" stroke-linejoin="round"/>
<rect x="54.40" y="166.60" width="118.90" height="179.70" fill="none" stroke="#404040" stroke-width="1.6"/>
<line x1="54.40" y1="339.27" x2="56.60" y2="339.27" stroke="#404040" stroke-width="1.2" />
<line x1="173.30" y1="339.27" x2="171.10" y2="339.27" stroke="#404040" stroke-width="1.2" />
<line x1="54.40" y1="320.50" x2="57.90" y2="320.50" stroke="#404040" stroke-width="1.2" />
<line x1="173.30" y1="320.50" x2="169.80" y2="320.50" stroke="#404040" stroke-width="1.2" />
<line x1="54.40" y1="301.73" x2="56.60" y2="301.73" stroke="#404040" stroke-width="1.2" />
<line x1="173.30" y1="301.73" x2="171.10" y2="301.73" stroke="#404040" stroke-width="1.2" />
<line x1="54.40" y1="282.95" x2="57.90" y2="282.95" stroke="#404040" stroke-width="1.2" />
<line x1="173.30" y1="282.95" x2="169.80" y2="282.95" stroke="#404040" stroke-width="1.2" />
<line x1="54.40" y1="264.18" x2="56.60" y2="264.18" stroke="#404040" stroke-width="1.2" />
<line x1="173.30" y1="264.18" x2="171.10" y2="264.18" stroke="#404040" stroke-width="1.2" />
<line x1="54.40" y1="245.40" x2="57.90" y2="245.40" stroke="#404040" stroke-width="1.2" />
<line x1="173.30" y1="245.40" x2="169.80" y2="245.40" stroke="#404040" stroke-width="1.2" />
<line x1="54.40" y1="226.62" x2="56.60" y2="226.62" stroke="#404040" stroke-width="1.2" />
<line x1="173.30" y1="226.62" x2="171.10" y2="226.62" stroke="#404040" stroke-width="1.2" />
<line x1="54.40" y1="207.85" x2="57.90" y2="207.85" stroke="#404040" stroke-width="1.2" />
<line x1="173.30" y1="207.85" x2="169.80" y2="207.85" stroke="#404040" stroke-width="1.2" />
<line x1="54.40" y1="189.08" x2="56.60" y2="189.08" stroke="#404040" stroke-width="1.2" />
<line x1="173.30" y1="189.08" x2="171.10" y2="189.08" stroke="#404040" stroke-width="1.2" />
<line x1="54.40" y1="170.30" x2="57.90" y2="170.30" stroke="#404040" stroke-width="1.2" />
<line x1="173.30" y1="170.30" x2="169.80" y2="170.30" stroke="#404040" stroke-width="1.2" />
<line x1="70.55" y1="346.30" x2="70.55" y2="344.10" stroke="#404040" stroke-width="1.2" />
<line x1="70.55" y1="166.60" x2="70.55" y2="168.80" stroke="#404040" stroke-width="1.2" />
<line x1="85.20" y1="346.30" x2="85.20" y2="342.80" stroke="#404040" stroke-width="1.2" />
<line x1="85.20" y1="166.60" x2="85.20" y2="170.10" stroke="#404040" stroke-width="1.2" />
<line x1="99.85" y1="346.30" x2="99.85" y2="344.10" stroke="#404040" stroke-width="1.2" />
<line x1="99.85" y1="166.60" x2="99.85" y2="168.80" stroke="#404040" stroke-width="1.2" />
<line x1="114.50" y1="346.30" x2="114.50" y2="342.80" stroke="#404040" stroke-width="1.2" />
<line x1="114.50" y1="166.60" x2="114.50" y2="170.10" stroke="#404040" stroke-width="1.2" />
<line x1="129.15" y1="346.30" x2="129.15" y2="344.10" stroke="#404040" stroke-width="1.2" />
<line x1="129.15" y1="166.60" x2="129.15" y2="168.80" stroke="#404040" stroke-width="1.2" />
<line x1="143.80" y1="346.30" x2="143.80" y2="342.80" stroke="#404040" stroke-width="1.2" />
<line x1="143.80" y1="166.60" x2="143.80" y2="170.10" stroke="#404040" stroke-width="1.2" />
<line x1="158.45" y1="346.30" x2="158.45" y2="344.10" stroke="#404040" stroke-width="1.2" />
<line x1="158.45" y1="166.60" x2="158.45" y2="168.80" stroke="#404040" stroke-width="1.2" />
<text x="46.10" y="172.40" font-size="10.3" text-anchor="end" fill="#111" stroke="#111" stroke-width="0.22" >2.4</text>
<text x="46.10" y="213.20" font-size="10.3" text-anchor="end" fill="#111" stroke="#111" stroke-width="0.22" >2.2</text>
<text x="46.10" y="253.00" font-size="10.3" text-anchor="end" fill="#111" stroke="#111" stroke-width="0.22" >2.0</text>
<text x="46.10" y="287.10" font-size="10.3" text-anchor="end" fill="#111" stroke="#111" stroke-width="0.22" >1.8</text>
<text x="46.10" y="326.80" font-size="10.3" text-anchor="end" fill="#111" stroke="#111" stroke-width="0.22" >1.6</text>
<text x="52.00" y="360.60" font-size="10.3" text-anchor="middle" fill="#111" stroke="#111" stroke-width="0.22" >200</text>
<text x="84.60" y="360.60" font-size="10.3" text-anchor="middle" fill="#111" stroke="#111" stroke-width="0.22" >400</text>
<text x="112.80" y="360.60" font-size="10.3" text-anchor="middle" fill="#111" stroke="#111" stroke-width="0.22" >600</text>
<text x="142.80" y="360.60" font-size="10.3" text-anchor="middle" fill="#111" stroke="#111" stroke-width="0.22" >800</text>
<text transform="translate(23.9,258.1) rotate(-90)" font-size="10.8" font-style="italic" text-anchor="middle" fill="#111" stroke="#111" stroke-width="0.22">n</text>
<line x1="109.00" y1="314.60" x2="138.20" y2="314.60" stroke="#111" stroke-width="2" />
<line x1="109.00" y1="331.25" x2="138.20" y2="331.25" stroke="#f02020" stroke-width="2" />
<text x="141.80" y="319.50" font-size="10.8" text-anchor="start" fill="#111" stroke="#111" stroke-width="0.22" >GO</text>
<text x="141.80" y="336.10" font-size="10.8" text-anchor="start" fill="#111" stroke="#111" stroke-width="0.22" >rGO</text>
<path d="M185.00,266.00 L185.02,265.60 L185.03,265.20 L185.05,264.80 L185.07,264.40 L185.09,264.00 L185.11,263.60 L185.12,263.20 L185.14,262.80 L185.16,262.40 L185.18,262.00 L185.20,261.60 L185.22,261.20 L185.24,260.80 L185.26,260.40 L185.29,260.00 L185.31,259.61 L185.33,259.21 L185.35,258.81 L185.37,258.41 L185.40,258.01 L185.42,257.61 L185.44,257.21 L185.46,256.81 L185.49,256.41 L185.51,256.01 L185.54,255.61 L185.56,255.21 L185.58,254.81 L185.61,254.41 L185.63,254.01 L185.66,253.62 L185.69,253.22 L185.71,252.82 L185.74,252.42 L185.76,252.02 L185.79,251.62 L185.82,251.22 L185.84,250.82 L185.87,250.42 L185.90,250.02 L185.92,249.62 L185.95,249.23 L185.98,248.83 L186.01,248.43 L186.03,248.03 L186.06,247.63 L186.09,247.23 L186.12,246.83 L186.15,246.43 L186.17,246.03 L186.20,245.64 L186.23,245.24 L186.26,244.84 L186.29,244.42 L186.32,243.99 L186.35,243.55 L186.38,243.09 L186.41,242.63 L186.44,242.15 L186.47,241.66 L186.50,241.16 L186.53,240.65 L186.56,240.14 L186.59,239.62 L186.63,239.10 L186.66,238.57 L186.69,238.04 L186.72,237.51 L186.76,236.98 L186.79,236.45 L186.82,235.92 L186.86,235.39 L186.89,234.87 L186.93,234.36 L186.96,233.85 L187.00,233.34 L187.03,232.85 L187.07,232.36 L187.11,231.89 L187.15,231.43 L187.18,230.98 L187.22,230.54 L187.26,230.12 L187.30,229.71 L187.34,229.32 L187.38,228.95 L187.42,228.60 L187.47,228.27 L187.51,227.96 L187.55,227.67 L187.59,227.40 L187.64,227.16 L187.68,226.95 L187.73,226.76 L187.78,226.60 L187.82,226.47 L187.87,226.37 L187.92,226.30 L187.97,226.26 L188.02,226.25 L188.07,226.30 L188.13,226.39 L188.18,226.54 L188.25,226.73 L188.31,226.96 L188.38,227.23 L188.45,227.54 L188.52,227.88 L188.59,228.25 L188.66,228.66 L188.74,229.08 L188.82,229.53 L188.89,230.00 L188.97,230.49 L189.05,230.99 L189.13,231.49 L189.20,232.01 L189.28,232.54 L189.36,233.06 L189.44,233.58 L189.51,234.10 L189.58,234.62 L189.66,235.12 L189.73,235.62 L189.79,236.09 L189.86,236.55 L189.92,236.99 L189.99,237.41 L190.04,237.80 L190.10,238.20 L190.16,238.59 L190.21,238.99 L190.27,239.38 L190.32,239.78 L190.38,240.18 L190.43,240.57 L190.48,240.97 L190.53,241.37 L190.58,241.76 L190.63,242.16 L190.68,242.56 L190.72,242.96 L190.77,243.35 L190.82,243.75 L190.87,244.15 L190.91,244.55 L190.96,244.94 L191.00,245.34 L191.05,245.74 L191.09,246.14 L191.14,246.53 L191.18,246.93 L191.23,247.33 L191.27,247.73 L191.32,248.12 L191.36,248.52 L191.41,248.92 L191.45,249.32 L191.50,249.72 L191.54,250.11 L191.59,250.51 L191.64,250.91 L191.68,251.31 L191.73,251.70 L191.78,252.10 L191.83,252.50 L191.88,252.89 L191.93,253.29 L191.98,253.69 L192.03,254.09 L192.08,254.48 L192.13,254.88 L192.18,255.27 L192.24,255.67 L192.29,256.07 L192.35,256.46 L192.41,256.86 L192.46,257.25 L192.52,257.65 L192.58,258.04 L192.64,258.44 L192.70,258.83 L192.76,259.23 L192.83,259.62 L192.89,260.02 L192.95,260.41 L193.01,260.81 L193.08,261.20 L193.14,261.60 L193.20,261.99 L193.27,262.39 L193.34,262.79 L193.40,263.18 L193.47,263.58 L193.54,263.97 L193.60,264.37 L193.67,264.76 L193.74,265.16 L193.81,265.55 L193.88,265.94 L193.95,266.34 L194.02,266.73 L194.09,267.13 L194.17,267.52 L194.24,267.92 L194.31,268.31 L194.39,268.70 L194.46,269.10 L194.54,269.49 L194.62,269.88 L194.69,270.28 L194.77,270.67 L194.85,271.06 L194.93,271.45 L195.01,271.85 L195.09,272.24 L195.17,272.63 L195.25,273.02 L195.34,273.41 L195.42,273.80 L195.50,274.19 L195.59,274.58 L195.67,274.97 L195.76,275.36 L195.85,275.75 L195.94,276.14 L196.02,276.53 L196.11,276.92 L196.20,277.31 L196.30,277.69 L196.39,278.08 L196.48,278.47 L196.58,278.86 L196.67,279.25 L196.77,279.64 L196.87,280.02 L196.97,280.41 L197.07,280.80 L197.18,281.19 L197.28,281.58 L197.39,281.96 L197.50,282.35 L197.61,282.74 L197.72,283.12 L197.83,283.51 L197.94,283.90 L198.06,284.28 L198.18,284.67 L198.30,285.05 L198.42,285.43 L198.54,285.81 L198.66,286.20 L198.79,286.58 L198.91,286.96 L199.04,287.33 L199.17,287.71 L199.30,288.09 L199.43,288.46 L199.57,288.84 L199.70,289.21 L199.84,289.58 L199.98,289.95 L200.13,290.32 L200.27,290.69 L200.43,291.06 L200.58,291.42 L200.75,291.78 L200.91,292.15 L201.08,292.51 L201.25,292.87 L201.43,293.22 L201.61,293.58 L201.79,293.94 L201.97,294.30 L202.16,294.65 L202.35,295.01 L202.54,295.36 L202.73,295.72 L202.92,296.07 L203.11,296.42 L203.30,296.78 L203.49,297.13 L203.68,297.48 L203.87,297.84 L204.06,298.19 L204.25,298.55 L204.44,298.90 L204.62,299.26 L204.81,299.62 L204.99,299.97 L205.17,300.33 L205.34,300.69 L205.52,301.05 L205.70,301.41 L205.87,301.77 L206.05,302.13 L206.23,302.48 L206.40,302.84 L206.58,303.20 L206.75,303.56 L206.93,303.92 L207.11,304.28 L207.28,304.64 L207.46,305.00 L207.63,305.36 L207.81,305.72 L207.99,306.08 L208.17,306.44 L208.35,306.79 L208.53,307.15 L208.71,307.51 L208.89,307.86 L209.07,308.22 L209.25,308.58 L209.44,308.93 L209.62,309.28 L209.81,309.64 L210.00,309.99 L210.18,310.34 L210.37,310.70 L210.56,311.06 L210.74,311.41 L210.93,311.77 L211.11,312.13 L211.30,312.49 L211.49,312.85 L211.67,313.21 L211.86,313.57 L212.05,313.92 L212.24,314.28 L212.43,314.64 L212.63,314.99 L212.82,315.34 L213.02,315.69 L213.22,316.04 L213.43,316.38 L213.63,316.72 L213.84,317.06 L214.06,317.39 L214.27,317.72 L214.49,318.04 L214.72,318.37 L214.95,318.68 L215.18,318.99 L215.42,319.31 L215.67,319.62 L215.91,319.93 L216.17,320.24 L216.42,320.55 L216.69,320.86 L216.95,321.17 L217.22,321.48 L217.49,321.78 L217.77,322.08 L218.05,322.38 L218.33,322.67 L218.62,322.97 L218.91,323.25 L219.20,323.54 L219.50,323.82 L219.80,324.09 L220.10,324.36 L220.40,324.63 L220.71,324.89 L221.02,325.14 L221.33,325.39 L221.64,325.63 L221.95,325.86 L222.27,326.09 L222.58,326.31 L222.91,326.53 L223.23,326.75 L223.57,326.98 L223.90,327.20 L224.25,327.43 L224.59,327.65 L224.94,327.88 L225.30,328.09 L225.65,328.31 L226.02,328.51 L226.38,328.71 L226.75,328.90 L227.11,329.08 L227.49,329.25 L227.86,329.41 L228.23,329.55 L228.61,329.68 L228.98,329.79 L229.36,329.88 L229.74,329.96 L230.11,330.02 L230.49,330.07 L230.88,330.12 L231.26,330.17 L231.65,330.21 L232.04,330.26 L232.44,330.30 L232.83,330.35 L233.23,330.39 L233.63,330.43 L234.03,330.46 L234.44,330.50 L234.84,330.53 L235.25,330.56 L235.65,330.59 L236.06,330.62 L236.46,330.64 L236.87,330.67 L237.28,330.69 L237.68,330.70 L238.09,330.72 L238.49,330.73 L238.89,330.74 L239.29,330.75 L239.69,330.75 L240.09,330.75 L240.49,330.74 L240.89,330.73 L241.28,330.70 L241.68,330.67 L242.07,330.63 L242.47,330.59 L242.87,330.54 L243.26,330.48 L243.66,330.42 L244.05,330.35 L244.45,330.28 L244.84,330.21 L245.24,330.14 L245.63,330.06 L246.03,329.98 L246.42,329.90 L246.82,329.82 L247.21,329.75 L247.61,329.67 L248.00,329.59 L248.40,329.52 L248.79,329.45 L249.19,329.38 L249.58,329.31 L249.98,329.25 L250.38,329.19 L250.77,329.13 L251.17,329.07 L251.56,329.00 L251.96,328.93 L252.35,328.86 L252.75,328.79 L253.15,328.72 L253.54,328.64 L253.94,328.57 L254.33,328.50 L254.73,328.42 L255.12,328.35 L255.52,328.28 L255.91,328.21 L256.31,328.14 L256.71,328.07 L257.10,328.00 L257.50,327.94 L257.89,327.88 L258.29,327.82 L258.69,327.77 L259.08,327.72 L259.48,327.68 L259.88,327.64 L260.27,327.60 L260.67,327.57 L261.07,327.54 L261.46,327.52 L261.86,327.51 L262.26,327.50 L262.66,327.50 L263.06,327.50 L263.45,327.50 L263.85,327.50 L264.25,327.50 L264.65,327.50 L265.05,327.50 L265.45,327.50 L265.85,327.50 L266.25,327.50 L266.65,327.50 L267.05,327.50 L267.46,327.50 L267.86,327.50 L268.26,327.50 L268.66,327.50 L269.06,327.50 L269.46,327.50 L269.86,327.50 L270.26,327.50 L270.66,327.50 L271.06,327.50 L271.46,327.50 L271.86,327.50 L272.26,327.50 L272.66,327.50 L273.06,327.50 L273.46,327.50 L273.86,327.50 L274.26,327.50 L274.66,327.50 L275.06,327.50 L275.46,327.50 L275.85,327.51 L276.25,327.53 L276.65,327.55 L277.05,327.58 L277.44,327.61 L277.84,327.65 L278.24,327.69 L278.64,327.73 L279.03,327.78 L279.43,327.83 L279.83,327.89 L280.22,327.95 L280.62,328.01 L281.02,328.07 L281.41,328.14 L281.81,328.21 L282.20,328.28 L282.60,328.35 L283.00,328.42 L283.39,328.49 L283.79,328.57 L284.18,328.64 L284.58,328.72 L284.97,328.79 L285.37,328.87 L285.76,328.94 L286.16,329.01 L286.55,329.08 L286.94,329.15 L287.34,329.22 L287.73,329.29 L288.13,329.36 L288.52,329.43 L288.91,329.50 L289.31,329.57 L289.70,329.64 L290.09,329.71 L290.48,329.79 L290.88,329.86 L291.27,329.94 L291.66,330.01 L292.05,330.09 L292.45,330.17 L292.84,330.25 L293.23,330.33 L293.62,330.41 L294.01,330.50 L294.40,330.58 L294.80,330.67 L295.19,330.75 L295.58,330.84 L295.97,330.92 L296.36,331.01 L296.75,331.10 L297.14,331.19 L297.53,331.28 L297.92,331.37 L298.31,331.47 L298.70,331.56 L299.09,331.65 L299.48,331.75 L299.87,331.84 L300.26,331.94" fill="none" stroke="#111" stroke-width="2.1" stroke-dasharray="5.5 4.5"/>
<path d="M190.60,176.40 L190.64,176.80 L190.67,177.20 L190.71,177.60 L190.74,177.99 L190.78,178.39 L190.81,178.79 L190.85,179.19 L190.88,179.59 L190.92,179.99 L190.95,180.38 L190.99,180.78 L191.02,181.18 L191.06,181.58 L191.09,181.98 L191.13,182.38 L191.16,182.78 L191.19,183.17 L191.23,183.57 L191.26,183.97 L191.29,184.37 L191.33,184.77 L191.36,185.17 L191.39,185.57 L191.43,185.97 L191.46,186.36 L191.49,186.76 L191.53,187.16 L191.56,187.56 L191.59,187.96 L191.62,188.36 L191.65,188.76 L191.69,189.15 L191.72,189.55 L191.75,189.95 L191.78,190.35 L191.81,190.75 L191.84,191.15 L191.87,191.55 L191.91,191.95 L191.94,192.34 L191.97,192.74 L192.00,193.14 L192.03,193.54 L192.06,193.94 L192.09,194.34 L192.12,194.74 L192.15,195.14 L192.18,195.54 L192.21,195.93 L192.24,196.33 L192.27,196.73 L192.30,197.13 L192.32,197.53 L192.35,197.93 L192.38,198.33 L192.41,198.73 L192.44,199.13 L192.47,199.52 L192.49,199.92 L192.52,200.32 L192.55,200.72 L192.58,201.12 L192.61,201.52 L192.63,201.92 L192.66,202.32 L192.69,202.72 L192.71,203.12 L192.74,203.52 L192.77,203.91 L192.79,204.31 L192.82,204.71 L192.85,205.11 L192.87,205.51 L192.90,205.91 L192.93,206.31 L192.95,206.71 L192.98,207.11 L193.00,207.51 L193.03,207.91 L193.05,208.30 L193.08,208.70 L193.10,209.10 L193.13,209.50 L193.15,209.90 L193.18,210.30 L193.20,210.70 L193.23,211.10 L193.25,211.50 L193.28,211.90 L193.30,212.30 L193.33,212.70 L193.35,213.10 L193.37,213.50 L193.40,213.89 L193.42,214.29 L193.45,214.69 L193.47,215.09 L193.49,215.49 L193.52,215.89 L193.54,216.29 L193.56,216.69 L193.59,217.09 L193.61,217.49 L193.63,217.89 L193.65,218.29 L193.68,218.69 L193.70,219.09 L193.72,219.49 L193.74,219.88 L193.77,220.28 L193.79,220.68 L193.81,221.08 L193.83,221.48 L193.85,221.88 L193.87,222.28 L193.89,222.68 L193.92,223.08 L193.94,223.48 L193.96,223.88 L193.98,224.28 L194.00,224.68 L194.02,225.08 L194.04,225.48 L194.06,225.88 L194.08,226.28 L194.10,226.68 L194.12,227.08 L194.13,227.47 L194.15,227.87 L194.17,228.27 L194.19,228.67 L194.21,229.07 L194.23,229.47 L194.25,229.87 L194.27,230.27 L194.29,230.67 L194.31,231.07 L194.32,231.47 L194.34,231.87 L194.36,232.27 L194.38,232.67 L194.40,233.07 L194.42,233.47 L194.44,233.87 L194.46,234.27 L194.47,234.67 L194.49,235.07 L194.51,235.47 L194.53,235.87 L194.55,236.27 L194.57,236.66 L194.59,237.06 L194.61,237.46 L194.63,237.86 L194.65,238.26 L194.67,238.66 L194.69,239.06 L194.71,239.46 L194.73,239.86 L194.75,240.26 L194.77,240.66 L194.79,241.06 L194.81,241.46 L194.83,241.86 L194.85,242.26 L194.87,242.66 L194.89,243.06 L194.91,243.46 L194.94,243.86 L194.96,244.25 L194.98,244.65 L195.00,245.05 L195.03,245.45 L195.05,245.85 L195.07,246.25 L195.09,246.65 L195.12,247.05 L195.14,247.45 L195.16,247.85 L195.19,248.25 L195.21,248.65 L195.23,249.05 L195.25,249.45 L195.28,249.85 L195.30,250.24 L195.32,250.64 L195.35,251.04 L195.37,251.44 L195.39,251.84 L195.42,252.24 L195.44,252.64 L195.47,253.04 L195.49,253.44 L195.51,253.84 L195.54,254.24 L195.56,254.64 L195.59,255.04 L195.61,255.44 L195.63,255.84 L195.66,256.24 L195.68,256.63 L195.71,257.03 L195.73,257.43 L195.76,257.83 L195.78,258.23 L195.81,258.63 L195.83,259.03 L195.86,259.43 L195.88,259.83 L195.91,260.23 L195.93,260.63 L195.96,261.03 L195.98,261.43 L196.01,261.83 L196.03,262.22 L196.06,262.62 L196.08,263.02 L196.11,263.42 L196.14,263.82 L196.16,264.22 L196.19,264.62 L196.22,265.02 L196.24,265.42 L196.27,265.82 L196.30,266.22 L196.32,266.62 L196.35,267.01 L196.38,267.41 L196.40,267.81 L196.43,268.21 L196.46,268.61 L196.49,269.01 L196.51,269.41 L196.54,269.81 L196.57,270.21 L196.60,270.61 L196.63,271.01 L196.65,271.40 L196.68,271.80 L196.71,272.20 L196.74,272.60 L196.77,273.00 L196.80,273.40 L196.83,273.80 L196.86,274.20 L196.89,274.60 L196.91,275.00 L196.94,275.39 L196.97,275.79 L197.00,276.19 L197.03,276.59 L197.06,276.99 L197.10,277.39 L197.13,277.79 L197.16,278.19 L197.19,278.58 L197.22,278.98 L197.25,279.38 L197.28,279.78 L197.31,280.18 L197.34,280.58 L197.38,280.98 L197.41,281.37 L197.44,281.77 L197.47,282.17 L197.51,282.57 L197.54,282.97 L197.57,283.37 L197.60,283.77 L197.64,284.16 L197.67,284.56 L197.70,284.96 L197.74,285.36 L197.77,285.76 L197.80,286.16 L197.83,286.56 L197.87,286.96 L197.90,287.36 L197.94,287.75 L197.97,288.15 L198.00,288.55 L198.04,288.95 L198.07,289.35 L198.11,289.75 L198.14,290.15 L198.18,290.55 L198.21,290.95 L198.25,291.35 L198.28,291.75 L198.32,292.14 L198.36,292.54 L198.39,292.94 L198.43,293.34 L198.47,293.74 L198.51,294.14 L198.54,294.54 L198.58,294.94 L198.62,295.33 L198.66,295.73 L198.70,296.13 L198.74,296.53 L198.78,296.93 L198.82,297.33 L198.87,297.72 L198.91,298.12 L198.95,298.52 L198.99,298.92 L199.04,299.32 L199.08,299.71 L199.13,300.11 L199.17,300.51 L199.22,300.90 L199.26,301.30 L199.31,301.70 L199.36,302.10 L199.41,302.49 L199.45,302.89 L199.50,303.29 L199.55,303.68 L199.60,304.08 L199.66,304.47 L199.71,304.87 L199.76,305.26 L199.81,305.66 L199.87,306.06 L199.92,306.45 L199.98,306.85 L200.03,307.24 L200.09,307.64 L200.15,308.04 L200.20,308.44 L200.26,308.85 L200.32,309.26 L200.38,309.66 L200.44,310.07 L200.51,310.48 L200.57,310.89 L200.64,311.29 L200.71,311.70 L200.78,312.10 L200.86,312.50 L200.94,312.90 L201.03,313.29 L201.12,313.68 L201.21,314.06 L201.31,314.44 L201.41,314.81 L201.52,315.17 L201.64,315.53 L201.76,315.88 L201.89,316.23 L202.05,316.58 L202.24,316.94 L202.45,317.30 L202.68,317.65 L202.93,318.00 L203.19,318.34 L203.47,318.66 L203.76,318.97 L204.05,319.26 L204.35,319.53 L204.65,319.77 L204.96,319.97 L205.27,320.16 L205.60,320.35 L205.96,320.54 L206.34,320.72 L206.73,320.90 L207.13,321.06 L207.54,321.22 L207.94,321.36 L208.35,321.48 L208.75,321.59 L209.14,321.67 L209.51,321.72 L209.87,321.75 L210.20,321.74 L210.53,321.69 L210.86,321.59 L211.18,321.45 L211.49,321.27 L211.80,321.06 L212.11,320.81 L212.41,320.54 L212.71,320.25 L213.00,319.94 L213.30,319.61 L213.59,319.27 L213.88,318.92 L214.16,318.57 L214.45,318.21 L214.73,317.86 L215.01,317.51 L215.30,317.17 L215.58,316.85 L215.86,316.54 L216.15,316.25 L216.43,315.97 L216.71,315.69 L216.99,315.41 L217.27,315.13 L217.55,314.84 L217.83,314.55 L218.10,314.27 L218.38,313.98 L218.65,313.69 L218.93,313.40 L219.20,313.11 L219.47,312.81 L219.74,312.52 L220.01,312.22 L220.28,311.93 L220.55,311.63 L220.82,311.34 L221.08,311.04 L221.35,310.74 L221.62,310.44 L221.88,310.14 L222.15,309.84 L222.41,309.54 L222.67,309.24 L222.94,308.94 L223.20,308.63 L223.46,308.33 L223.72,308.03 L223.99,307.72 L224.25,307.42 L224.51,307.11 L224.77,306.81 L225.03,306.51 L225.29,306.20 L225.55,305.90 L225.81,305.59 L226.07,305.28 L226.33,304.98 L226.59,304.67 L226.85,304.37 L227.11,304.06 L227.37,303.76 L227.63,303.45 L227.89,303.15 L228.15,302.84 L228.41,302.54 L228.67,302.24 L228.93,301.93 L229.20,301.63 L229.46,301.33 L229.72,301.02 L229.98,300.72 L230.24,300.42 L230.51,300.12 L230.77,299.82 L231.03,299.51 L231.29,299.21 L231.55,298.91 L231.81,298.61 L232.07,298.30 L232.33,298.00 L232.60,297.70 L232.86,297.39 L233.12,297.09 L233.38,296.78 L233.64,296.48 L233.90,296.18 L234.15,295.87 L234.41,295.57 L234.67,295.26 L234.93,294.96 L235.19,294.65 L235.45,294.35 L235.71,294.04 L235.97,293.74 L236.23,293.43 L236.48,293.13 L236.74,292.82 L237.00,292.52 L237.26,292.21 L237.52,291.91 L237.77,291.60 L238.03,291.29 L238.29,290.99 L238.55,290.68 L238.80,290.38 L239.06,290.07 L239.32,289.76 L239.58,289.46 L239.83,289.15 L240.09,288.84 L240.35,288.54 L240.60,288.23 L240.86,287.92 L241.12,287.62 L241.37,287.31 L241.63,287.00 L241.89,286.70 L242.14,286.39 L242.40,286.08 L242.66,285.78 L242.91,285.47 L243.17,285.16 L243.43,284.85 L243.68,284.55 L243.94,284.24 L244.20,283.93 L244.45,283.63 L244.71,283.32 L244.97,283.01 L245.22,282.71 L245.48,282.40 L245.74,282.09 L245.99,281.78 L246.25,281.48 L246.51,281.17 L246.76,280.86 L247.02,280.56 L247.28,280.25 L247.53,279.94 L247.79,279.64 L248.05,279.33 L248.30,279.02 L248.56,278.72 L248.82,278.41 L249.07,278.10 L249.33,277.80 L249.59,277.49 L249.85,277.19 L250.10,276.88 L250.36,276.57 L250.62,276.27 L250.88,275.96 L251.13,275.66 L251.39,275.35 L251.65,275.04 L251.91,274.74 L252.17,274.43 L252.43,274.13 L252.68,273.82 L252.94,273.52 L253.20,273.21 L253.46,272.91 L253.72,272.60 L253.98,272.30 L254.24,271.99 L254.50,271.69 L254.76,271.38 L255.02,271.08 L255.28,270.78 L255.54,270.47 L255.80,270.17 L256.06,269.86 L256.32,269.56 L256.58,269.26 L256.84,268.95 L257.10,268.65 L257.35,268.34 L257.61,268.04 L257.87,267.73 L258.13,267.43 L258.39,267.13 L258.65,266.82 L258.91,266.52 L259.17,266.21 L259.43,265.91 L259.69,265.60 L259.95,265.30 L260.21,265.00 L260.47,264.69 L260.73,264.39 L260.99,264.08 L261.25,263.78 L261.51,263.47 L261.77,263.17 L262.03,262.87 L262.29,262.56 L262.55,262.26 L262.81,261.95 L263.07,261.65 L263.33,261.35 L263.59,261.04 L263.85,260.74 L264.11,260.43 L264.37,260.13 L264.63,259.83 L264.89,259.52 L265.15,259.22 L265.41,258.91 L265.67,258.61 L265.93,258.31 L266.19,258.00 L266.45,257.70 L266.71,257.40 L266.98,257.09 L267.24,256.79 L267.50,256.49 L267.76,256.18 L268.02,255.88 L268.28,255.58 L268.54,255.27 L268.80,254.97 L269.06,254.67 L269.33,254.37 L269.59,254.06 L269.85,253.76 L270.11,253.46 L270.37,253.16 L270.63,252.85 L270.90,252.55 L271.16,252.25 L271.42,251.95 L271.68,251.64 L271.95,251.34 L272.21,251.04 L272.47,250.74 L272.73,250.44 L273.00,250.14 L273.26,249.83 L273.52,249.53 L273.78,249.23 L274.05,248.93 L274.31,248.63 L274.58,248.33 L274.84,248.03 L275.10,247.73 L275.37,247.43 L275.63,247.13 L275.89,246.83 L276.16,246.53 L276.42,246.23 L276.69,245.93 L276.95,245.63 L277.22,245.33 L277.48,245.03 L277.75,244.73 L278.01,244.43 L278.28,244.13 L278.54,243.83 L278.81,243.53 L279.08,243.23 L279.34,242.94 L279.61,242.64 L279.88,242.34 L280.14,242.04 L280.41,241.74 L280.68,241.45 L280.94,241.15 L281.21,240.85 L281.48,240.55 L281.74,240.26 L282.01,239.96 L282.28,239.66 L282.55,239.36 L282.82,239.07 L283.08,238.77 L283.35,238.47 L283.62,238.18 L283.89,237.88 L284.16,237.59 L284.43,237.29 L284.70,236.99 L284.96,236.70 L285.23,236.40 L285.50,236.11 L285.77,235.81 L286.04,235.51 L286.31,235.22 L286.58,234.92 L286.85,234.63 L287.12,234.33 L287.39,234.04 L287.66,233.74 L287.93,233.45 L288.20,233.15 L288.47,232.86 L288.74,232.57 L289.02,232.27 L289.29,231.98 L289.56,231.68 L289.83,231.39 L290.10,231.10 L290.37,230.80 L290.64,230.51 L290.91,230.21 L291.19,229.92 L291.46,229.63 L291.73,229.33 L292.00,229.04 L292.28,228.75 L292.55,228.46 L292.82,228.16 L293.09,227.87 L293.37,227.58 L293.64,227.28 L293.91,226.99 L294.18,226.70 L294.46,226.41 L294.73,226.12 L295.01,225.82 L295.28,225.53 L295.55,225.24 L295.83,224.95 L296.10,224.66 L296.37,224.36 L296.65,224.07 L296.92,223.78 L297.20,223.49 L297.47,223.20 L297.75,222.91 L298.02,222.62 L298.30,222.33 L298.57,222.04 L298.85,221.75 L299.12,221.45 L299.40,221.16 L299.67,220.87 L299.95,220.58 L300.22,220.29 L300.50,220.00" fill="none" stroke="#f02020" stroke-width="2.1" stroke-dasharray="6.5 5"/>
<rect x="182.50" y="166.60" width="119.00" height="179.70" fill="none" stroke="#404040" stroke-width="1.6"/>
<line x1="182.50" y1="331.50" x2="186.00" y2="331.50" stroke="#404040" stroke-width="1.2" />
<line x1="301.50" y1="331.50" x2="298.00" y2="331.50" stroke="#404040" stroke-width="1.2" />
<line x1="182.50" y1="316.48" x2="184.70" y2="316.48" stroke="#404040" stroke-width="1.2" />
<line x1="301.50" y1="316.48" x2="299.30" y2="316.48" stroke="#404040" stroke-width="1.2" />
<line x1="182.50" y1="301.46" x2="186.00" y2="301.46" stroke="#404040" stroke-width="1.2" />
<line x1="301.50" y1="301.46" x2="298.00" y2="301.46" stroke="#404040" stroke-width="1.2" />
<line x1="182.50" y1="286.44" x2="184.70" y2="286.44" stroke="#404040" stroke-width="1.2" />
<line x1="301.50" y1="286.44" x2="299.30" y2="286.44" stroke="#404040" stroke-width="1.2" />
<line x1="182.50" y1="271.42" x2="186.00" y2="271.42" stroke="#404040" stroke-width="1.2" />
<line x1="301.50" y1="271.42" x2="298.00" y2="271.42" stroke="#404040" stroke-width="1.2" />
<line x1="182.50" y1="256.40" x2="184.70" y2="256.40" stroke="#404040" stroke-width="1.2" />
<line x1="301.50" y1="256.40" x2="299.30" y2="256.40" stroke="#404040" stroke-width="1.2" />
<line x1="182.50" y1="241.38" x2="186.00" y2="241.38" stroke="#404040" stroke-width="1.2" />
<line x1="301.50" y1="241.38" x2="298.00" y2="241.38" stroke="#404040" stroke-width="1.2" />
<line x1="182.50" y1="226.36" x2="184.70" y2="226.36" stroke="#404040" stroke-width="1.2" />
<line x1="301.50" y1="226.36" x2="299.30" y2="226.36" stroke="#404040" stroke-width="1.2" />
<line x1="182.50" y1="211.34" x2="186.00" y2="211.34" stroke="#404040" stroke-width="1.2" />
<line x1="301.50" y1="211.34" x2="298.00" y2="211.34" stroke="#404040" stroke-width="1.2" />
<line x1="182.50" y1="196.32" x2="184.70" y2="196.32" stroke="#404040" stroke-width="1.2" />
<line x1="301.50" y1="196.32" x2="299.30" y2="196.32" stroke="#404040" stroke-width="1.2" />
<line x1="182.50" y1="181.30" x2="186.00" y2="181.30" stroke="#404040" stroke-width="1.2" />
<line x1="301.50" y1="181.30" x2="298.00" y2="181.30" stroke="#404040" stroke-width="1.2" />
<line x1="197.40" y1="346.30" x2="197.40" y2="344.10" stroke="#404040" stroke-width="1.2" />
<line x1="197.40" y1="166.60" x2="197.40" y2="168.80" stroke="#404040" stroke-width="1.2" />
<line x1="212.30" y1="346.30" x2="212.30" y2="342.80" stroke="#404040" stroke-width="1.2" />
<line x1="212.30" y1="166.60" x2="212.30" y2="170.10" stroke="#404040" stroke-width="1.2" />
<line x1="227.20" y1="346.30" x2="227.20" y2="344.10" stroke="#404040" stroke-width="1.2" />
<line x1="227.20" y1="166.60" x2="227.20" y2="168.80" stroke="#404040" stroke-width="1.2" />
<line x1="242.10" y1="346.30" x2="242.10" y2="342.80" stroke="#404040" stroke-width="1.2" />
<line x1="242.10" y1="166.60" x2="242.10" y2="170.10" stroke="#404040" stroke-width="1.2" />
<line x1="257.00" y1="346.30" x2="257.00" y2="344.10" stroke="#404040" stroke-width="1.2" />
<line x1="257.00" y1="166.60" x2="257.00" y2="168.80" stroke="#404040" stroke-width="1.2" />
<line x1="271.90" y1="346.30" x2="271.90" y2="342.80" stroke="#404040" stroke-width="1.2" />
<line x1="271.90" y1="166.60" x2="271.90" y2="170.10" stroke="#404040" stroke-width="1.2" />
<line x1="286.80" y1="346.30" x2="286.80" y2="344.10" stroke="#404040" stroke-width="1.2" />
<line x1="286.80" y1="166.60" x2="286.80" y2="168.80" stroke="#404040" stroke-width="1.2" />
<text x="304.00" y="186.00" font-size="10.3" text-anchor="start" fill="#111" stroke="#111" stroke-width="0.22" >0.9</text>
<text x="304.00" y="216.90" font-size="10.3" text-anchor="start" fill="#111" stroke="#111" stroke-width="0.22" >0.8</text>
<text x="304.00" y="247.00" font-size="10.3" text-anchor="start" fill="#111" stroke="#111" stroke-width="0.22" >0.7</text>
<text x="304.00" y="277.10" font-size="10.3" text-anchor="start" fill="#111" stroke="#111" stroke-width="0.22" >0.6</text>
<text x="304.00" y="306.40" font-size="10.3" text-anchor="start" fill="#111" stroke="#111" stroke-width="0.22" >0.5</text>
<text x="304.00" y="337.10" font-size="10.3" text-anchor="start" fill="#111" stroke="#111" stroke-width="0.22" >0.4</text>
<text x="181.50" y="360.60" font-size="10.3" text-anchor="middle" fill="#111" stroke="#111" stroke-width="0.22" >200</text>
<text x="212.10" y="360.60" font-size="10.3" text-anchor="middle" fill="#111" stroke="#111" stroke-width="0.22" >400</text>
<text x="242.00" y="360.60" font-size="10.3" text-anchor="middle" fill="#111" stroke="#111" stroke-width="0.22" >600</text>
<text x="271.90" y="360.60" font-size="10.3" text-anchor="middle" fill="#111" stroke="#111" stroke-width="0.22" >800</text>
<text x="178.00" y="377.60" font-size="10.8" text-anchor="middle" fill="#111" stroke="#111" stroke-width="0.22" >Wavelength (nm)</text>
<text transform="translate(331.0,260.5) rotate(-90)" font-size="10.8" font-style="italic" text-anchor="middle" fill="#111" stroke="#111" stroke-width="0.22">k</text>
<line x1="210.60" y1="199.00" x2="239.20" y2="199.00" stroke="#111" stroke-width="2" stroke-dasharray="6 5.3"/>
<line x1="210.60" y1="215.50" x2="239.20" y2="215.50" stroke="#f02020" stroke-width="2" stroke-dasharray="6 5.3"/>
<text x="253.80" y="205.30" font-size="10.8" text-anchor="middle" fill="#111" stroke="#111" stroke-width="0.22" >GO</text>
<text x="253.90" y="220.90" font-size="10.8" text-anchor="middle" fill="#111" stroke="#111" stroke-width="0.22" >rGO</text>
<rect x="278.00" y="166.60" width="23.50" height="23.20" fill="#0a72c6"/>
<text x="289.80" y="181.20" font-size="12.5" font-weight="bold" text-anchor="middle" fill="#fff">b</text>
<path d="M364.60,300.78 L365.60,297.88 L366.60,297.09 L367.60,297.02 L368.60,297.96 L369.60,298.46 L370.60,299.62 L371.60,297.17 L372.60,297.61 L373.60,298.33 L374.60,296.84 L375.60,294.71 L376.60,292.52 L377.60,291.26 L378.60,290.14 L379.60,290.03 L380.60,291.93 L381.60,295.13 L382.60,295.34 L383.60,295.55 L384.60,293.38 L385.60,290.87 L386.60,290.73 L387.60,289.18 L388.60,287.38 L389.60,286.82 L390.60,286.08 L391.60,286.15 L392.60,287.20 L393.60,289.26 L394.60,289.70 L395.60,287.08 L396.60,285.38 L397.60,285.50 L398.60,287.04 L399.60,285.88 L400.60,284.05 L401.60,282.03 L402.60,283.20 L403.60,284.83 L404.60,284.81 L405.60,285.63 L406.60,282.73 L407.60,274.95 L408.60,271.80 L409.60,269.61 L410.60,265.98 L411.60,261.07 L412.60,255.19 L413.60,249.49 L414.60,245.27 L415.60,242.00 L416.60,237.84 L417.60,232.73 L418.60,225.82 L419.60,216.73 L420.60,207.69 L421.60,197.92 L422.60,189.98 L423.60,188.34 L424.60,193.44 L425.60,201.08 L426.60,206.85 L427.60,212.18 L428.60,216.64 L429.60,221.95 L430.60,227.69 L431.60,234.42 L432.60,238.62 L433.60,242.25 L434.60,244.81 L435.60,246.79 L436.60,246.53 L437.60,246.82 L438.60,247.41 L439.60,246.23 L440.60,246.93 L441.60,244.81 L442.60,239.56 L443.60,233.82 L444.60,227.33 L445.60,218.20 L446.60,212.67 L447.60,208.98 L448.60,206.91 L449.60,206.86 L450.60,208.90 L451.60,212.51 L452.60,226.42 L453.60,244.36 L454.60,258.21 L455.60,265.37 L456.60,268.14 L457.60,269.68 L458.60,271.14 L459.60,272.38 L460.60,273.33 L461.60,274.70 L462.60,276.83 L463.60,276.22 L464.60,272.88 L465.60,273.72 L466.60,274.37 L467.60,274.65 L468.60,274.20 L469.60,272.89 L470.60,274.61 L471.60,276.44 L472.60,275.89 L473.60,275.49 L474.60,276.10 L475.60,277.16 L476.60,278.57 L477.60,277.64 L478.60,277.71 L479.60,276.49 L480.60,276.64 L481.60,275.93 L482.60,274.73 L483.60,275.24 L484.60,275.01 L485.60,276.05 L486.60,277.66 L487.60,277.24 L488.60,276.18 L489.60,275.28 L490.60,274.25 L491.60,275.07 L492.60,275.74" fill="none" stroke="#2a2af0" stroke-width="1.6" stroke-linejoin="round"/>
<path d="M364.40,338.93 L365.40,337.86 L366.40,337.29 L367.40,336.90 L368.40,336.46 L369.40,336.37 L370.40,336.27 L371.40,336.44 L372.40,338.57 L373.40,339.12 L374.40,338.53 L375.40,337.48 L376.40,336.31 L377.40,334.55 L378.40,332.19 L379.40,330.74 L380.40,331.94 L381.40,334.18 L382.40,336.25 L383.40,337.20 L384.40,336.99 L385.40,337.32 L386.40,336.84 L387.40,334.93 L388.40,332.68 L389.40,331.66 L390.40,330.63 L391.40,332.33 L392.40,336.21 L393.40,338.64 L394.40,337.77 L395.40,335.66 L396.40,333.10 L397.40,331.73 L398.40,333.19 L399.40,334.49 L400.40,335.61 L401.40,336.55 L402.40,338.06 L403.40,338.68 L404.40,338.18 L405.40,336.32 L406.40,334.70 L407.40,330.28 L408.40,327.83 L409.40,327.58 L410.40,326.29 L411.40,324.90 L412.40,323.54 L413.40,321.50 L414.40,320.70 L415.40,320.41 L416.40,320.20 L417.40,318.37 L418.40,314.50 L419.40,310.16 L420.40,308.33 L421.40,306.44 L422.40,303.80 L423.40,302.12 L424.40,301.90 L425.40,304.94 L426.40,307.72 L427.40,308.84 L428.40,310.31 L429.40,312.16 L430.40,313.75 L431.40,315.34 L432.40,316.42 L433.40,316.76 L434.40,318.58 L435.40,320.49 L436.40,319.70 L437.40,318.94 L438.40,318.67 L439.40,318.28 L440.40,318.78 L441.40,318.40 L442.40,317.61 L443.40,316.38 L444.40,314.79 L445.40,310.24 L446.40,306.90 L447.40,305.85 L448.40,306.39 L449.40,307.40 L450.40,308.41 L451.40,310.73 L452.40,312.42 L453.40,316.34 L454.40,320.64 L455.40,323.98 L456.40,323.15 L457.40,323.28 L458.40,323.39 L459.40,323.80 L460.40,323.94 L461.40,326.56 L462.40,327.53 L463.40,326.84 L464.40,324.98 L465.40,323.75 L466.40,325.16 L467.40,326.30 L468.40,325.99 L469.40,325.41 L470.40,324.84 L471.40,324.77 L472.40,324.90 L473.40,325.08 L474.40,325.90 L475.40,327.11 L476.40,327.16 L477.40,328.14 L478.40,327.52 L479.40,326.37 L480.40,325.94 L481.40,324.73 L482.40,324.20 L483.40,324.00 L484.40,324.21 L485.40,324.63 L486.40,325.03 L487.40,325.30 L488.40,324.42 L489.40,324.99 L490.40,324.39 L491.40,324.72 L492.40,325.02" fill="none" stroke="#f52525" stroke-width="1.6" stroke-linejoin="round"/>
<rect x="364.20" y="167.40" width="129.30" height="179.30" fill="none" stroke="#404040" stroke-width="1.6"/>
<line x1="364.20" y1="333.60" x2="366.40" y2="333.60" stroke="#404040" stroke-width="1.2" />
<line x1="364.20" y1="300.25" x2="367.70" y2="300.25" stroke="#404040" stroke-width="1.2" />
<line x1="364.20" y1="266.90" x2="366.40" y2="266.90" stroke="#404040" stroke-width="1.2" />
<line x1="364.20" y1="233.55" x2="367.70" y2="233.55" stroke="#404040" stroke-width="1.2" />
<line x1="364.20" y1="200.20" x2="366.40" y2="200.20" stroke="#404040" stroke-width="1.2" />
<line x1="385.50" y1="346.70" x2="385.50" y2="344.50" stroke="#404040" stroke-width="1.2" />
<line x1="407.00" y1="346.70" x2="407.00" y2="343.20" stroke="#404040" stroke-width="1.2" />
<line x1="428.50" y1="346.70" x2="428.50" y2="344.50" stroke="#404040" stroke-width="1.2" />
<line x1="450.00" y1="346.70" x2="450.00" y2="343.20" stroke="#404040" stroke-width="1.2" />
<line x1="471.50" y1="346.70" x2="471.50" y2="344.50" stroke="#404040" stroke-width="1.2" />
<line x1="385.50" y1="167.40" x2="385.50" y2="165.20" stroke="#404040" stroke-width="1.1" />
<line x1="428.50" y1="167.40" x2="428.50" y2="165.20" stroke="#404040" stroke-width="1.1" />
<text x="356.80" y="172.00" font-size="10.3" text-anchor="end" fill="#111" stroke="#111" stroke-width="0.22" >3</text>
<text x="356.80" y="238.70" font-size="10.3" text-anchor="end" fill="#111" stroke="#111" stroke-width="0.22" >2</text>
<text x="356.80" y="306.00" font-size="10.3" text-anchor="end" fill="#111" stroke="#111" stroke-width="0.22" >1</text>
<text x="360.70" y="361.10" font-size="10.3" text-anchor="middle" fill="#111" stroke="#111" stroke-width="0.22" >800</text>
<text x="405.70" y="361.10" font-size="10.3" text-anchor="middle" fill="#111" stroke="#111" stroke-width="0.22" >1200</text>
<text x="449.20" y="361.10" font-size="10.3" text-anchor="middle" fill="#111" stroke="#111" stroke-width="0.22" >1600</text>
<text x="492.20" y="361.10" font-size="10.3" text-anchor="middle" fill="#111" stroke="#111" stroke-width="0.22" >2000</text>
<text x="432.8" y="377.7" font-size="10.8" text-anchor="middle" fill="#111" stroke="#111" stroke-width="0.22">Wave number (cm<tspan font-size="7" dy="-4">-1</tspan><tspan dy="4">)</tspan></text>
<text transform="translate(345.3,260.0) rotate(-90)" font-size="10.8" text-anchor="middle" fill="#111" stroke="#111" stroke-width="0.22">Raman spectrum (a.u.)</text>
<line x1="367.30" y1="183.10" x2="382.50" y2="183.10" stroke="#f02020" stroke-width="1.5" />
<line x1="367.30" y1="198.00" x2="382.50" y2="198.00" stroke="#2a2ae6" stroke-width="1.5" />
<text x="386.40" y="189.10" font-size="10.8" text-anchor="start" fill="#111" stroke="#111" stroke-width="0.22" >GO</text>
<text x="386.40" y="203.20" font-size="10.8" text-anchor="start" fill="#111" stroke="#111" stroke-width="0.22" >rGO</text>
<rect x="470.00" y="167.20" width="23.50" height="23.40" fill="#0a72c6"/>
<text x="481.80" y="182.20" font-size="12.5" font-weight="bold" text-anchor="middle" fill="#fff">c</text>
<path d="M59.50,474.91 L60.40,474.78 L61.30,475.00 L62.20,475.59 L63.10,475.98 L64.00,476.21 L64.90,475.67 L65.80,476.23 L66.70,476.55 L67.60,477.61 L68.50,476.29 L69.40,478.41 L70.30,477.52 L71.20,477.45 L72.10,478.19 L73.00,478.60 L73.90,477.73 L74.80,477.31 L75.70,475.79 L76.60,475.66 L77.50,475.35 L78.40,474.80 L79.30,476.35 L80.20,476.35 L81.10,476.98 L82.00,476.73 L82.90,476.87 L83.80,476.58 L84.70,474.01 L85.60,473.78 L86.50,472.42 L87.40,471.72 L88.30,470.21 L89.20,471.63 L90.10,472.32 L91.00,471.76 L91.90,472.54 L92.80,471.26 L93.70,473.20 L94.60,472.22 L95.50,472.47 L96.40,469.85 L97.30,470.25 L98.20,468.62 L99.10,468.41 L100.00,466.96 L100.90,467.30 L101.80,469.60 L102.70,468.54 L103.60,469.35 L104.50,470.08 L105.40,469.64 L106.30,470.67 L107.20,470.51 L108.10,468.50 L109.00,467.35 L109.90,468.67 L110.80,468.22 L111.70,467.60 L112.60,467.37 L113.50,465.77 L114.40,465.90 L115.30,465.00 L116.20,464.98 L117.10,466.67 L118.00,466.08 L118.90,468.26 L119.80,467.25 L120.70,466.91 L121.60,467.60 L122.50,467.84 L123.40,466.54 L124.30,464.92 L125.20,465.22 L126.10,464.95 L127.00,462.60 L127.90,461.03 L128.80,460.67 L129.70,458.84 L130.60,457.04 L131.50,456.54 L132.40,455.33 L133.30,454.74 L134.20,453.10 L135.10,451.97 L136.00,449.79 L136.90,446.42 L137.80,445.57 L138.70,443.88 L139.60,441.64 L140.50,439.95 L141.40,436.88 L142.30,434.39 L143.20,433.15 L144.10,429.48 L145.00,426.19 L145.90,425.26 L146.80,421.03 L147.70,417.17 L148.60,412.15 L149.50,408.57 L150.40,406.25 L151.30,405.58 L152.20,406.02 L153.10,403.06 L154.00,399.96 L154.90,394.66 L155.80,394.96 L156.70,397.98 L157.60,398.73 L158.50,398.50 L159.40,401.11 L160.30,400.24 L161.20,401.71 L162.10,402.59 L163.00,404.46 L163.90,404.83 L164.80,408.66 L165.70,411.83 L166.60,416.57 L167.50,417.87 L168.40,420.16 L169.30,423.42 L170.20,424.49 L171.10,426.75 L172.00,430.79 L172.90,432.55 L173.80,434.55 L174.70,437.74 L175.60,438.40 L176.50,441.38 L177.40,442.87 L178.30,443.16 L179.20,444.49 L180.10,446.38 L181.00,447.64 L181.90,448.23 L182.80,450.04 L183.70,449.00 L184.60,450.36 L185.50,450.69 L186.40,451.02 L187.30,451.60 L188.20,450.87 L189.10,452.05 L190.00,451.09 L190.90,449.45 L191.80,447.47 L192.70,446.43 L193.60,446.37 L194.50,444.66 L195.40,444.45 L196.30,444.41 L197.20,443.83 L198.10,443.44 L199.00,441.19 L199.90,438.97 L200.80,438.22 L201.70,435.87 L202.60,434.39 L203.50,431.75 L204.40,430.78 L205.30,429.17 L206.20,427.80 L207.10,426.71 L208.00,426.19 L208.90,425.89 L209.80,425.72 L210.70,425.89 L211.60,423.72 L212.50,422.94 L213.40,420.16 L214.30,420.40 L215.20,419.56 L216.10,419.33 L217.00,420.55 L217.90,418.92 L218.80,417.94 L219.70,417.98 L220.60,418.75 L221.50,422.02 L222.40,423.05 L223.30,425.32 L224.20,425.86 L225.10,428.39 L226.00,430.30 L226.90,432.75 L227.80,433.06 L228.70,435.63 L229.60,437.16 L230.50,437.95 L231.40,439.98 L232.30,441.14 L233.20,441.18 L234.10,444.25 L235.00,445.62 L235.90,446.62 L236.80,447.81 L237.70,451.26 L238.60,452.24 L239.50,454.25 L240.40,455.88 L241.30,456.05 L242.20,458.11 L243.10,458.69 L244.00,459.98 L244.90,461.12 L245.80,462.33 L246.70,464.17 L247.60,464.78 L248.50,465.80 L249.40,466.90 L250.30,468.39 L251.20,468.71 L252.10,469.91 L253.00,471.03 L253.90,471.45 L254.80,472.36 L255.70,472.64 L256.60,474.74 L257.50,474.83 L258.40,474.79 L259.30,474.98 L260.20,476.85 L261.10,476.29 L262.00,476.66 L262.90,477.53 L263.80,478.19 L264.70,479.51 L265.60,479.29 L266.50,481.16 L267.40,479.93 L268.30,481.42" fill="none" stroke="#7a1c1c" stroke-width="1.5" stroke-linejoin="round"/>
<path d="M59.40,477.01 L59.90,477.03 L60.40,477.04 L60.90,477.05 L61.40,477.06 L61.90,477.07 L62.40,477.09 L62.90,477.10 L63.40,477.11 L63.90,477.12 L64.40,477.13 L64.90,477.15 L65.40,477.16 L65.90,477.17 L66.40,477.18 L66.90,477.19 L67.40,477.20 L67.90,477.22 L68.40,477.23 L68.90,477.24 L69.40,477.25 L69.90,477.26 L70.40,477.28 L70.90,477.29 L71.40,477.30 L71.90,477.31 L72.40,477.32 L72.90,477.34 L73.40,477.35 L73.90,477.36 L74.40,477.37 L74.90,477.38 L75.40,477.39 L75.90,477.41 L76.40,477.42 L76.90,477.43 L77.40,477.44 L77.90,477.45 L78.40,477.47 L78.90,477.48 L79.40,477.49 L79.90,477.50 L80.40,477.51 L80.90,477.53 L81.40,477.54 L81.90,477.55 L82.40,477.56 L82.90,477.57 L83.40,477.59 L83.90,477.60 L84.40,477.61 L84.90,477.62 L85.40,477.63 L85.90,477.64 L86.40,477.66 L86.90,477.67 L87.40,477.68 L87.90,477.69 L88.40,477.70 L88.90,477.72 L89.40,477.73 L89.90,477.74 L90.40,477.75 L90.90,477.76 L91.40,477.78 L91.90,477.79 L92.40,477.80 L92.90,477.81 L93.40,477.82 L93.90,477.83 L94.40,477.85 L94.90,477.86 L95.40,477.87 L95.90,477.88 L96.40,477.89 L96.90,477.91 L97.40,477.92 L97.90,477.93 L98.40,477.94 L98.90,477.95 L99.40,477.97 L99.90,477.98 L100.40,477.99 L100.90,478.00 L101.40,478.01 L101.90,478.03 L102.40,478.04 L102.90,478.05 L103.40,478.06 L103.90,478.07 L104.40,478.08 L104.90,478.10 L105.40,478.11 L105.90,478.12 L106.40,478.13 L106.90,478.14 L107.40,478.16 L107.90,478.17 L108.40,478.18 L108.90,478.19 L109.40,478.20 L109.90,478.22 L110.40,478.23 L110.90,478.24 L111.40,478.25 L111.90,478.26 L112.40,478.27 L112.90,478.29 L113.40,478.30 L113.90,478.31 L114.40,478.32 L114.90,478.33 L115.40,478.35 L115.90,478.36 L116.40,478.37 L116.90,478.38 L117.40,478.39 L117.90,478.41 L118.40,478.42 L118.90,478.43 L119.40,478.44 L119.90,478.45 L120.40,478.47 L120.90,478.48 L121.40,478.49 L121.90,478.50 L122.40,478.51 L122.90,478.52 L123.40,478.54 L123.90,478.55 L124.40,478.56 L124.90,478.57 L125.40,478.58 L125.90,478.60 L126.40,478.61 L126.90,478.62 L127.40,478.63 L127.90,478.64 L128.40,478.66 L128.90,478.67 L129.40,478.68 L129.90,478.69 L130.40,478.70 L130.90,478.71 L131.40,478.73 L131.90,478.74 L132.40,478.75 L132.90,478.76 L133.40,478.77 L133.90,478.79 L134.40,478.80 L134.90,478.81 L135.40,478.82 L135.90,478.83 L136.40,478.85 L136.90,478.86 L137.40,478.87 L137.90,478.88 L138.40,478.89 L138.90,478.90 L139.40,478.92 L139.90,478.93 L140.40,478.94 L140.90,478.95 L141.40,478.96 L141.90,478.97 L142.40,478.99 L142.90,479.00 L143.40,479.01 L143.90,479.02 L144.40,479.03 L144.90,479.04 L145.40,479.05 L145.90,479.06 L146.40,479.07 L146.90,479.09 L147.40,479.10 L147.90,479.11 L148.40,479.12 L148.90,479.13 L149.40,479.14 L149.90,479.15 L150.40,479.15 L150.90,479.16 L151.40,479.17 L151.90,479.18 L152.40,479.19 L152.90,479.20 L153.40,479.20 L153.90,479.21 L154.40,479.22 L154.90,479.22 L155.40,479.23 L155.90,479.23 L156.40,479.23 L156.90,479.23 L157.40,479.24 L157.90,479.24 L158.40,479.23 L158.90,479.23 L159.40,479.23 L159.90,479.22 L160.40,479.22 L160.90,479.21 L161.40,479.20 L161.90,479.19 L162.40,479.17 L162.90,479.15 L163.40,479.13 L163.90,479.11 L164.40,479.09 L164.90,479.06 L165.40,479.03 L165.90,478.99 L166.40,478.95 L166.90,478.91 L167.40,478.86 L167.90,478.80 L168.40,478.75 L168.90,478.68 L169.40,478.61 L169.90,478.54 L170.40,478.46 L170.90,478.37 L171.40,478.27 L171.90,478.17 L172.40,478.05 L172.90,477.93 L173.40,477.80 L173.90,477.66 L174.40,477.52 L174.90,477.36 L175.40,477.18 L175.90,477.00 L176.40,476.81 L176.90,476.60 L177.40,476.38 L177.90,476.14 L178.40,475.90 L178.90,475.63 L179.40,475.35 L179.90,475.06 L180.40,474.75 L180.90,474.42 L181.40,474.07 L181.90,473.71 L182.40,473.33 L182.90,472.92 L183.40,472.50 L183.90,472.06 L184.40,471.60 L184.90,471.11 L185.40,470.61 L185.90,470.08 L186.40,469.53 L186.90,468.96 L187.40,468.37 L187.90,467.75 L188.40,467.11 L188.90,466.45 L189.40,465.76 L189.90,465.05 L190.40,464.32 L190.90,463.57 L191.40,462.79 L191.90,461.99 L192.40,461.17 L192.90,460.32 L193.40,459.46 L193.90,458.57 L194.40,457.67 L194.90,456.74 L195.40,455.80 L195.90,454.84 L196.40,453.86 L196.90,452.87 L197.40,451.86 L197.90,450.84 L198.40,449.81 L198.90,448.76 L199.40,447.71 L199.90,446.65 L200.40,445.58 L200.90,444.51 L201.40,443.44 L201.90,442.36 L202.40,441.29 L202.90,440.22 L203.40,439.15 L203.90,438.09 L204.40,437.04 L204.90,436.00 L205.40,434.97 L205.90,433.95 L206.40,432.96 L206.90,431.98 L207.40,431.02 L207.90,430.08 L208.40,429.17 L208.90,428.29 L209.40,427.43 L209.90,426.60 L210.40,425.81 L210.90,425.05 L211.40,424.33 L211.90,423.65 L212.40,423.01 L212.90,422.40 L213.40,421.84 L213.90,421.33 L214.40,420.85 L214.90,420.43 L215.40,420.05 L215.90,419.72 L216.40,419.45 L216.90,419.22 L217.40,419.04 L217.90,418.91 L218.40,418.83 L218.90,418.81 L219.40,418.84 L219.90,418.93 L220.40,419.08 L220.90,419.30 L221.40,419.57 L221.90,419.90 L222.40,420.29 L222.90,420.74 L223.40,421.24 L223.90,421.80 L224.40,422.41 L224.90,423.08 L225.40,423.79 L225.90,424.55 L226.40,425.35 L226.90,426.20 L227.40,427.09 L227.90,428.01 L228.40,428.98 L228.90,429.97 L229.40,431.00 L229.90,432.05 L230.40,433.13 L230.90,434.24 L231.40,435.36 L231.90,436.51 L232.40,437.66 L232.90,438.83 L233.40,440.01 L233.90,441.20 L234.40,442.39 L234.90,443.58 L235.40,444.78 L235.90,445.97 L236.40,447.16 L236.90,448.34 L237.40,449.51 L237.90,450.67 L238.40,451.82 L238.90,452.95 L239.40,454.07 L239.90,455.17 L240.40,456.26 L240.90,457.32 L241.40,458.36 L241.90,459.38 L242.40,460.37 L242.90,461.35 L243.40,462.29 L243.90,463.21 L244.40,464.11 L244.90,464.98 L245.40,465.82 L245.90,466.63 L246.40,467.42 L246.90,468.18 L247.40,468.91 L247.90,469.61 L248.40,470.29 L248.90,470.94 L249.40,471.57 L249.90,472.16 L250.40,472.74 L250.90,473.28 L251.40,473.81 L251.90,474.30 L252.40,474.78 L252.90,475.23 L253.40,475.66 L253.90,476.07 L254.40,476.45 L254.90,476.82 L255.40,477.16 L255.90,477.49 L256.40,477.80 L256.90,478.09 L257.40,478.37 L257.90,478.63 L258.40,478.87 L258.90,479.10 L259.40,479.31 L259.90,479.52 L260.40,479.71 L260.90,479.88 L261.40,480.05 L261.90,480.20 L262.40,480.35 L262.90,480.48 L263.40,480.61 L263.90,480.73 L264.40,480.84 L264.90,480.94 L265.40,481.04 L265.90,481.13 L266.40,481.21 L266.90,481.29 L267.40,481.36 L267.90,481.43" fill="none" stroke="#f02020" stroke-width="1.5"/>
<path d="M59.40,477.01 L59.90,477.03 L60.40,477.04 L60.90,477.05 L61.40,477.06 L61.90,477.07 L62.40,477.09 L62.90,477.10 L63.40,477.11 L63.90,477.12 L64.40,477.13 L64.90,477.15 L65.40,477.16 L65.90,477.17 L66.40,477.18 L66.90,477.19 L67.40,477.20 L67.90,477.22 L68.40,477.23 L68.90,477.24 L69.40,477.25 L69.90,477.26 L70.40,477.28 L70.90,477.29 L71.40,477.30 L71.90,477.31 L72.40,477.32 L72.90,477.34 L73.40,477.35 L73.90,477.36 L74.40,477.37 L74.90,477.38 L75.40,477.39 L75.90,477.41 L76.40,477.42 L76.90,477.43 L77.40,477.44 L77.90,477.45 L78.40,477.47 L78.90,477.48 L79.40,477.49 L79.90,477.50 L80.40,477.51 L80.90,477.53 L81.40,477.54 L81.90,477.55 L82.40,477.56 L82.90,477.57 L83.40,477.58 L83.90,477.60 L84.40,477.61 L84.90,477.62 L85.40,477.63 L85.90,477.64 L86.40,477.66 L86.90,477.67 L87.40,477.68 L87.90,477.69 L88.40,477.70 L88.90,477.71 L89.40,477.73 L89.90,477.74 L90.40,477.75 L90.90,477.76 L91.40,477.77 L91.90,477.78 L92.40,477.79 L92.90,477.80 L93.40,477.82 L93.90,477.83 L94.40,477.84 L94.90,477.85 L95.40,477.86 L95.90,477.87 L96.40,477.88 L96.90,477.89 L97.40,477.89 L97.90,477.90 L98.40,477.91 L98.90,477.92 L99.40,477.92 L99.90,477.93 L100.40,477.94 L100.90,477.94 L101.40,477.94 L101.90,477.95 L102.40,477.95 L102.90,477.95 L103.40,477.95 L103.90,477.94 L104.40,477.94 L104.90,477.93 L105.40,477.92 L105.90,477.91 L106.40,477.90 L106.90,477.88 L107.40,477.86 L107.90,477.83 L108.40,477.81 L108.90,477.77 L109.40,477.74 L109.90,477.70 L110.40,477.65 L110.90,477.60 L111.40,477.54 L111.90,477.47 L112.40,477.40 L112.90,477.32 L113.40,477.23 L113.90,477.13 L114.40,477.02 L114.90,476.90 L115.40,476.77 L115.90,476.62 L116.40,476.47 L116.90,476.30 L117.40,476.11 L117.90,475.91 L118.40,475.69 L118.90,475.45 L119.40,475.20 L119.90,474.93 L120.40,474.63 L120.90,474.31 L121.40,473.98 L121.90,473.61 L122.40,473.22 L122.90,472.81 L123.40,472.37 L123.90,471.90 L124.40,471.40 L124.90,470.88 L125.40,470.32 L125.90,469.73 L126.40,469.11 L126.90,468.45 L127.40,467.76 L127.90,467.04 L128.40,466.28 L128.90,465.48 L129.40,464.65 L129.90,463.79 L130.40,462.88 L130.90,461.94 L131.40,460.97 L131.90,459.96 L132.40,458.91 L132.90,457.83 L133.40,456.72 L133.90,455.57 L134.40,454.39 L134.90,453.18 L135.40,451.94 L135.90,450.67 L136.40,449.38 L136.90,448.06 L137.40,446.72 L137.90,445.36 L138.40,443.99 L138.90,442.60 L139.40,441.20 L139.90,439.79 L140.40,438.37 L140.90,436.96 L141.40,435.54 L141.90,434.13 L142.40,432.73 L142.90,431.34 L143.40,429.97 L143.90,428.61 L144.40,427.28 L144.90,425.98 L145.40,424.71 L145.90,423.47 L146.40,422.27 L146.90,421.12 L147.40,420.01 L147.90,418.95 L148.40,417.94 L148.90,416.99 L149.40,416.11 L149.90,415.28 L150.40,414.52 L150.90,413.83 L151.40,413.21 L151.90,412.66 L152.40,412.19 L152.90,411.79 L153.40,411.47 L153.90,411.24 L154.40,411.08 L154.90,411.00 L155.40,411.00 L155.90,411.09 L156.40,411.26 L156.90,411.50 L157.40,411.83 L157.90,412.23 L158.40,412.71 L158.90,413.27 L159.40,413.90 L159.90,414.60 L160.40,415.37 L160.90,416.21 L161.40,417.11 L161.90,418.07 L162.40,419.09 L162.90,420.16 L163.40,421.28 L163.90,422.45 L164.40,423.66 L164.90,424.92 L165.40,426.21 L165.90,427.53 L166.40,428.88 L166.90,430.25 L167.40,431.64 L167.90,433.05 L168.40,434.48 L168.90,435.91 L169.40,437.35 L169.90,438.79 L170.40,440.23 L170.90,441.66 L171.40,443.09 L171.90,444.50 L172.40,445.91 L172.90,447.29 L173.40,448.66 L173.90,450.00 L174.40,451.33 L174.90,452.62 L175.40,453.89 L175.90,455.13 L176.40,456.34 L176.90,457.52 L177.40,458.67 L177.90,459.78 L178.40,460.85 L178.90,461.90 L179.40,462.90 L179.90,463.87 L180.40,464.81 L180.90,465.71 L181.40,466.57 L181.90,467.39 L182.40,468.18 L182.90,468.94 L183.40,469.66 L183.90,470.34 L184.40,471.00 L184.90,471.62 L185.40,472.20 L185.90,472.76 L186.40,473.29 L186.90,473.79 L187.40,474.26 L187.90,474.70 L188.40,475.12 L188.90,475.51 L189.40,475.88 L189.90,476.22 L190.40,476.54 L190.90,476.85 L191.40,477.13 L191.90,477.39 L192.40,477.64 L192.90,477.86 L193.40,478.08 L193.90,478.27 L194.40,478.46 L194.90,478.63 L195.40,478.79 L195.90,478.93 L196.40,479.07 L196.90,479.19 L197.40,479.31 L197.90,479.41 L198.40,479.51 L198.90,479.60 L199.40,479.69 L199.90,479.77 L200.40,479.84 L200.90,479.90 L201.40,479.97 L201.90,480.02 L202.40,480.07 L202.90,480.12 L203.40,480.17 L203.90,480.21 L204.40,480.25 L204.90,480.28 L205.40,480.32 L205.90,480.35 L206.40,480.38 L206.90,480.40 L207.40,480.43 L207.90,480.45 L208.40,480.48 L208.90,480.50 L209.40,480.52 L209.90,480.54 L210.40,480.56 L210.90,480.58 L211.40,480.59 L211.90,480.61 L212.40,480.63 L212.90,480.64 L213.40,480.66 L213.90,480.67 L214.40,480.68 L214.90,480.70 L215.40,480.71 L215.90,480.73 L216.40,480.74 L216.90,480.75 L217.40,480.77 L217.90,480.78 L218.40,480.79 L218.90,480.80 L219.40,480.82 L219.90,480.83 L220.40,480.84 L220.90,480.85 L221.40,480.87 L221.90,480.88 L222.40,480.89 L222.90,480.90 L223.40,480.91 L223.90,480.93 L224.40,480.94 L224.90,480.95 L225.40,480.96 L225.90,480.97 L226.40,480.99 L226.90,481.00 L227.40,481.01 L227.90,481.02 L228.40,481.03 L228.90,481.05 L229.40,481.06 L229.90,481.07 L230.40,481.08 L230.90,481.09 L231.40,481.11 L231.90,481.12 L232.40,481.13 L232.90,481.14 L233.40,481.15 L233.90,481.17 L234.40,481.18 L234.90,481.19 L235.40,481.20 L235.90,481.21 L236.40,481.22 L236.90,481.24 L237.40,481.25 L237.90,481.26 L238.40,481.27 L238.90,481.28 L239.40,481.30 L239.90,481.31 L240.40,481.32 L240.90,481.33 L241.40,481.34 L241.90,481.36 L242.40,481.37 L242.90,481.38 L243.40,481.39 L243.90,481.40 L244.40,481.41 L244.90,481.43 L245.40,481.44 L245.90,481.45 L246.40,481.46 L246.90,481.47 L247.40,481.49 L247.90,481.50 L248.40,481.51 L248.90,481.52 L249.40,481.53 L249.90,481.55 L250.40,481.56 L250.90,481.57 L251.40,481.58 L251.90,481.59 L252.40,481.61 L252.90,481.62 L253.40,481.63 L253.90,481.64 L254.40,481.65 L254.90,481.66 L255.40,481.68 L255.90,481.69 L256.40,481.70 L256.90,481.71 L257.40,481.72 L257.90,481.74 L258.40,481.75 L258.90,481.76 L259.40,481.77 L259.90,481.78 L260.40,481.80 L260.90,481.81 L261.40,481.82 L261.90,481.83 L262.40,481.84 L262.90,481.85 L263.40,481.87 L263.90,481.88 L264.40,481.89 L264.90,481.90 L265.40,481.91 L265.90,481.93 L266.40,481.94 L266.90,481.95 L267.40,481.96 L267.90,481.97" fill="none" stroke="#2a2ae8" stroke-width="1.5"/>
<path d="M59.40,476.91 L59.90,476.91 L60.40,476.91 L60.90,476.91 L61.40,476.91 L61.90,476.91 L62.40,476.91 L62.90,476.91 L63.40,476.91 L63.90,476.90 L64.40,476.90 L64.90,476.89 L65.40,476.89 L65.90,476.88 L66.40,476.87 L66.90,476.86 L67.40,476.84 L67.90,476.83 L68.40,476.82 L68.90,476.80 L69.40,476.78 L69.90,476.76 L70.40,476.74 L70.90,476.71 L71.40,476.69 L71.90,476.66 L72.40,476.63 L72.90,476.60 L73.40,476.56 L73.90,476.53 L74.40,476.49 L74.90,476.45 L75.40,476.40 L75.90,476.36 L76.40,476.31 L76.90,476.26 L77.40,476.20 L77.90,476.15 L78.40,476.09 L78.90,476.02 L79.40,475.96 L79.90,475.89 L80.40,475.82 L80.90,475.75 L81.40,475.67 L81.90,475.59 L82.40,475.51 L82.90,475.43 L83.40,475.34 L83.90,475.25 L84.40,475.15 L84.90,475.06 L85.40,474.96 L85.90,474.86 L86.40,474.76 L86.90,474.65 L87.40,474.54 L87.90,474.43 L88.40,474.32 L88.90,474.20 L89.40,474.08 L89.90,473.97 L90.40,473.85 L90.90,473.72 L91.40,473.60 L91.90,473.48 L92.40,473.35 L92.90,473.22 L93.40,473.10 L93.90,472.97 L94.40,472.84 L94.90,472.71 L95.40,472.58 L95.90,472.46 L96.40,472.33 L96.90,472.20 L97.40,472.08 L97.90,471.96 L98.40,471.83 L98.90,471.71 L99.40,471.60 L99.90,471.48 L100.40,471.37 L100.90,471.26 L101.40,471.15 L101.90,471.05 L102.40,470.95 L102.90,470.85 L103.40,470.76 L103.90,470.67 L104.40,470.58 L104.90,470.50 L105.40,470.43 L105.90,470.36 L106.40,470.30 L106.90,470.24 L107.40,470.18 L107.90,470.13 L108.40,470.09 L108.90,470.06 L109.40,470.03 L109.90,470.00 L110.40,469.98 L110.90,469.97 L111.40,469.97 L111.90,469.97 L112.40,469.98 L112.90,469.99 L113.40,470.01 L113.90,470.04 L114.40,470.07 L114.90,470.11 L115.40,470.15 L115.90,470.20 L116.40,470.26 L116.90,470.33 L117.40,470.40 L117.90,470.47 L118.40,470.55 L118.90,470.64 L119.40,470.73 L119.90,470.83 L120.40,470.93 L120.90,471.03 L121.40,471.14 L121.90,471.26 L122.40,471.38 L122.90,471.50 L123.40,471.63 L123.90,471.76 L124.40,471.89 L124.90,472.03 L125.40,472.16 L125.90,472.30 L126.40,472.45 L126.90,472.59 L127.40,472.74 L127.90,472.89 L128.40,473.04 L128.90,473.19 L129.40,473.34 L129.90,473.49 L130.40,473.64 L130.90,473.79 L131.40,473.94 L131.90,474.10 L132.40,474.25 L132.90,474.40 L133.40,474.54 L133.90,474.69 L134.40,474.84 L134.90,474.98 L135.40,475.13 L135.90,475.27 L136.40,475.41 L136.90,475.55 L137.40,475.68 L137.90,475.81 L138.40,475.95 L138.90,476.07 L139.40,476.20 L139.90,476.32 L140.40,476.44 L140.90,476.56 L141.40,476.68 L141.90,476.79 L142.40,476.90 L142.90,477.01 L143.40,477.11 L143.90,477.21 L144.40,477.31 L144.90,477.41 L145.40,477.50 L145.90,477.59 L146.40,477.67 L146.90,477.76 L147.40,477.84 L147.90,477.92 L148.40,478.00 L148.90,478.07 L149.40,478.14 L149.90,478.21 L150.40,478.27 L150.90,478.34 L151.40,478.40 L151.90,478.46 L152.40,478.52 L152.90,478.57 L153.40,478.62 L153.90,478.67 L154.40,478.72 L154.90,478.77 L155.40,478.81 L155.90,478.86 L156.40,478.90 L156.90,478.94 L157.40,478.98 L157.90,479.01 L158.40,479.05 L158.90,479.08 L159.40,479.11 L159.90,479.15 L160.40,479.18 L160.90,479.21 L161.40,479.23 L161.90,479.26 L162.40,479.29 L162.90,479.31 L163.40,479.34 L163.90,479.36 L164.40,479.38 L164.90,479.40 L165.40,479.43 L165.90,479.45 L166.40,479.47 L166.90,479.49 L167.40,479.50 L167.90,479.52 L168.40,479.54 L168.90,479.56 L169.40,479.57 L169.90,479.59 L170.40,479.61 L170.90,479.62 L171.40,479.64 L171.90,479.65 L172.40,479.67 L172.90,479.68 L173.40,479.70 L173.90,479.71 L174.40,479.73 L174.90,479.74 L175.40,479.76 L175.90,479.77 L176.40,479.78 L176.90,479.80 L177.40,479.81 L177.90,479.82 L178.40,479.83 L178.90,479.85 L179.40,479.86 L179.90,479.87 L180.40,479.89 L180.90,479.90 L181.40,479.91 L181.90,479.92 L182.40,479.94 L182.90,479.95 L183.40,479.96 L183.90,479.97 L184.40,479.98 L184.90,480.00 L185.40,480.01 L185.90,480.02 L186.40,480.03 L186.90,480.05 L187.40,480.06 L187.90,480.07 L188.40,480.08 L188.90,480.09 L189.40,480.11 L189.90,480.12 L190.40,480.13 L190.90,480.14 L191.40,480.15 L191.90,480.17 L192.40,480.18 L192.90,480.19 L193.40,480.20 L193.90,480.21 L194.40,480.23 L194.90,480.24 L195.40,480.25 L195.90,480.26 L196.40,480.27 L196.90,480.28 L197.40,480.30 L197.90,480.31 L198.40,480.32 L198.90,480.33 L199.40,480.34 L199.90,480.36 L200.40,480.37 L200.90,480.38 L201.40,480.39 L201.90,480.40 L202.40,480.42 L202.90,480.43 L203.40,480.44 L203.90,480.45 L204.40,480.46 L204.90,480.48 L205.40,480.49 L205.90,480.50 L206.40,480.51 L206.90,480.52 L207.40,480.53 L207.90,480.55 L208.40,480.56 L208.90,480.57 L209.40,480.58 L209.90,480.59 L210.40,480.61 L210.90,480.62 L211.40,480.63 L211.90,480.64 L212.40,480.65 L212.90,480.67 L213.40,480.68 L213.90,480.69 L214.40,480.70 L214.90,480.71 L215.40,480.73 L215.90,480.74 L216.40,480.75 L216.90,480.76 L217.40,480.77 L217.90,480.78 L218.40,480.80 L218.90,480.81 L219.40,480.82 L219.90,480.83 L220.40,480.84 L220.90,480.86 L221.40,480.87 L221.90,480.88 L222.40,480.89 L222.90,480.90 L223.40,480.92 L223.90,480.93 L224.40,480.94 L224.90,480.95 L225.40,480.96 L225.90,480.97 L226.40,480.99 L226.90,481.00 L227.40,481.01 L227.90,481.02 L228.40,481.03 L228.90,481.05 L229.40,481.06 L229.90,481.07 L230.40,481.08 L230.90,481.09 L231.40,481.11 L231.90,481.12 L232.40,481.13 L232.90,481.14 L233.40,481.15 L233.90,481.17 L234.40,481.18 L234.90,481.19 L235.40,481.20 L235.90,481.21 L236.40,481.22 L236.90,481.24 L237.40,481.25 L237.90,481.26 L238.40,481.27 L238.90,481.28 L239.40,481.30 L239.90,481.31 L240.40,481.32 L240.90,481.33 L241.40,481.34 L241.90,481.36 L242.40,481.37 L242.90,481.38 L243.40,481.39 L243.90,481.40 L244.40,481.41 L244.90,481.43 L245.40,481.44 L245.90,481.45 L246.40,481.46 L246.90,481.47 L247.40,481.49 L247.90,481.50 L248.40,481.51 L248.90,481.52 L249.40,481.53 L249.90,481.55 L250.40,481.56 L250.90,481.57 L251.40,481.58 L251.90,481.59 L252.40,481.61 L252.90,481.62 L253.40,481.63 L253.90,481.64 L254.40,481.65 L254.90,481.66 L255.40,481.68 L255.90,481.69 L256.40,481.70 L256.90,481.71 L257.40,481.72 L257.90,481.74 L258.40,481.75 L258.90,481.76 L259.40,481.77 L259.90,481.78 L260.40,481.80 L260.90,481.81 L261.40,481.82 L261.90,481.83 L262.40,481.84 L262.90,481.85 L263.40,481.87 L263.90,481.88 L264.40,481.89 L264.90,481.90 L265.40,481.91 L265.90,481.93 L266.40,481.94 L266.90,481.95 L267.40,481.96 L267.90,481.97" fill="none" stroke="#f028f0" stroke-width="1.5"/>
<path d="M59.40,477.01 L59.90,477.03 L60.40,477.04 L60.90,477.05 L61.40,477.06 L61.90,477.07 L62.40,477.09 L62.90,477.10 L63.40,477.11 L63.90,477.12 L64.40,477.13 L64.90,477.15 L65.40,477.16 L65.90,477.17 L66.40,477.18 L66.90,477.19 L67.40,477.20 L67.90,477.22 L68.40,477.23 L68.90,477.24 L69.40,477.25 L69.90,477.26 L70.40,477.28 L70.90,477.29 L71.40,477.30 L71.90,477.31 L72.40,477.32 L72.90,477.34 L73.40,477.35 L73.90,477.36 L74.40,477.37 L74.90,477.38 L75.40,477.39 L75.90,477.41 L76.40,477.42 L76.90,477.43 L77.40,477.44 L77.90,477.45 L78.40,477.47 L78.90,477.48 L79.40,477.49 L79.90,477.50 L80.40,477.51 L80.90,477.53 L81.40,477.54 L81.90,477.55 L82.40,477.56 L82.90,477.57 L83.40,477.59 L83.90,477.60 L84.40,477.61 L84.90,477.62 L85.40,477.63 L85.90,477.64 L86.40,477.66 L86.90,477.67 L87.40,477.68 L87.90,477.69 L88.40,477.70 L88.90,477.72 L89.40,477.73 L89.90,477.74 L90.40,477.75 L90.90,477.76 L91.40,477.78 L91.90,477.79 L92.40,477.80 L92.90,477.81 L93.40,477.82 L93.90,477.83 L94.40,477.85 L94.90,477.86 L95.40,477.87 L95.90,477.88 L96.40,477.89 L96.90,477.91 L97.40,477.92 L97.90,477.93 L98.40,477.94 L98.90,477.95 L99.40,477.97 L99.90,477.98 L100.40,477.99 L100.90,478.00 L101.40,478.01 L101.90,478.03 L102.40,478.04 L102.90,478.05 L103.40,478.06 L103.90,478.07 L104.40,478.08 L104.90,478.10 L105.40,478.11 L105.90,478.12 L106.40,478.13 L106.90,478.14 L107.40,478.16 L107.90,478.17 L108.40,478.18 L108.90,478.19 L109.40,478.20 L109.90,478.22 L110.40,478.23 L110.90,478.24 L111.40,478.25 L111.90,478.26 L112.40,478.27 L112.90,478.29 L113.40,478.30 L113.90,478.31 L114.40,478.32 L114.90,478.33 L115.40,478.34 L115.90,478.36 L116.40,478.37 L116.90,478.38 L117.40,478.39 L117.90,478.40 L118.40,478.41 L118.90,478.42 L119.40,478.43 L119.90,478.45 L120.40,478.46 L120.90,478.47 L121.40,478.48 L121.90,478.49 L122.40,478.50 L122.90,478.51 L123.40,478.52 L123.90,478.53 L124.40,478.54 L124.90,478.55 L125.40,478.55 L125.90,478.56 L126.40,478.57 L126.90,478.58 L127.40,478.59 L127.90,478.59 L128.40,478.60 L128.90,478.60 L129.40,478.61 L129.90,478.61 L130.40,478.61 L130.90,478.62 L131.40,478.62 L131.90,478.62 L132.40,478.62 L132.90,478.61 L133.40,478.61 L133.90,478.60 L134.40,478.60 L134.90,478.59 L135.40,478.58 L135.90,478.57 L136.40,478.55 L136.90,478.54 L137.40,478.52 L137.90,478.50 L138.40,478.47 L138.90,478.44 L139.40,478.42 L139.90,478.38 L140.40,478.35 L140.90,478.31 L141.40,478.26 L141.90,478.22 L142.40,478.16 L142.90,478.11 L143.40,478.05 L143.90,477.98 L144.40,477.91 L144.90,477.84 L145.40,477.76 L145.90,477.67 L146.40,477.58 L146.90,477.49 L147.40,477.38 L147.90,477.27 L148.40,477.16 L148.90,477.04 L149.40,476.91 L149.90,476.78 L150.40,476.63 L150.90,476.49 L151.40,476.33 L151.90,476.17 L152.40,476.00 L152.90,475.82 L153.40,475.64 L153.90,475.45 L154.40,475.26 L154.90,475.05 L155.40,474.84 L155.90,474.63 L156.40,474.40 L156.90,474.18 L157.40,473.94 L157.90,473.70 L158.40,473.46 L158.90,473.21 L159.40,472.96 L159.90,472.70 L160.40,472.44 L160.90,472.17 L161.40,471.91 L161.90,471.64 L162.40,471.37 L162.90,471.10 L163.40,470.83 L163.90,470.56 L164.40,470.29 L164.90,470.02 L165.40,469.75 L165.90,469.49 L166.40,469.23 L166.90,468.98 L167.40,468.73 L167.90,468.49 L168.40,468.25 L168.90,468.02 L169.40,467.80 L169.90,467.59 L170.40,467.38 L170.90,467.19 L171.40,467.01 L171.90,466.84 L172.40,466.68 L172.90,466.53 L173.40,466.40 L173.90,466.28 L174.40,466.17 L174.90,466.08 L175.40,466.00 L175.90,465.94 L176.40,465.89 L176.90,465.85 L177.40,465.84 L177.90,465.83 L178.40,465.85 L178.90,465.88 L179.40,465.92 L179.90,465.98 L180.40,466.06 L180.90,466.15 L181.40,466.25 L181.90,466.37 L182.40,466.50 L182.90,466.65 L183.40,466.81 L183.90,466.98 L184.40,467.17 L184.90,467.37 L185.40,467.57 L185.90,467.79 L186.40,468.02 L186.90,468.26 L187.40,468.51 L187.90,468.76 L188.40,469.02 L188.90,469.29 L189.40,469.57 L189.90,469.84 L190.40,470.13 L190.90,470.41 L191.40,470.70 L191.90,471.00 L192.40,471.29 L192.90,471.59 L193.40,471.88 L193.90,472.17 L194.40,472.47 L194.90,472.76 L195.40,473.05 L195.90,473.34 L196.40,473.62 L196.90,473.90 L197.40,474.18 L197.90,474.45 L198.40,474.72 L198.90,474.98 L199.40,475.24 L199.90,475.49 L200.40,475.73 L200.90,475.97 L201.40,476.20 L201.90,476.43 L202.40,476.65 L202.90,476.86 L203.40,477.06 L203.90,477.26 L204.40,477.45 L204.90,477.64 L205.40,477.82 L205.90,477.99 L206.40,478.15 L206.90,478.31 L207.40,478.46 L207.90,478.60 L208.40,478.74 L208.90,478.87 L209.40,479.00 L209.90,479.11 L210.40,479.23 L210.90,479.34 L211.40,479.44 L211.90,479.54 L212.40,479.63 L212.90,479.72 L213.40,479.80 L213.90,479.88 L214.40,479.95 L214.90,480.02 L215.40,480.09 L215.90,480.15 L216.40,480.21 L216.90,480.27 L217.40,480.32 L217.90,480.37 L218.40,480.42 L218.90,480.46 L219.40,480.50 L219.90,480.54 L220.40,480.58 L220.90,480.62 L221.40,480.65 L221.90,480.68 L222.40,480.71 L222.90,480.74 L223.40,480.77 L223.90,480.79 L224.40,480.82 L224.90,480.84 L225.40,480.87 L225.90,480.89 L226.40,480.91 L226.90,480.93 L227.40,480.95 L227.90,480.97 L228.40,480.98 L228.90,481.00 L229.40,481.02 L229.90,481.03 L230.40,481.05 L230.90,481.07 L231.40,481.08 L231.90,481.09 L232.40,481.11 L232.90,481.12 L233.40,481.14 L233.90,481.15 L234.40,481.16 L234.90,481.18 L235.40,481.19 L235.90,481.20 L236.40,481.22 L236.90,481.23 L237.40,481.24 L237.90,481.26 L238.40,481.27 L238.90,481.28 L239.40,481.29 L239.90,481.30 L240.40,481.32 L240.90,481.33 L241.40,481.34 L241.90,481.35 L242.40,481.37 L242.90,481.38 L243.40,481.39 L243.90,481.40 L244.40,481.41 L244.90,481.43 L245.40,481.44 L245.90,481.45 L246.40,481.46 L246.90,481.47 L247.40,481.49 L247.90,481.50 L248.40,481.51 L248.90,481.52 L249.40,481.53 L249.90,481.55 L250.40,481.56 L250.90,481.57 L251.40,481.58 L251.90,481.59 L252.40,481.61 L252.90,481.62 L253.40,481.63 L253.90,481.64 L254.40,481.65 L254.90,481.66 L255.40,481.68 L255.90,481.69 L256.40,481.70 L256.90,481.71 L257.40,481.72 L257.90,481.74 L258.40,481.75 L258.90,481.76 L259.40,481.77 L259.90,481.78 L260.40,481.80 L260.90,481.81 L261.40,481.82 L261.90,481.83 L262.40,481.84 L262.90,481.85 L263.40,481.87 L263.90,481.88 L264.40,481.89 L264.90,481.90 L265.40,481.91 L265.90,481.93 L266.40,481.94 L266.90,481.95 L267.40,481.96 L267.90,481.97" fill="none" stroke="#26e026" stroke-width="1.5"/>
<rect x="58.80" y="386.70" width="210.20" height="99.30" fill="none" stroke="#404040" stroke-width="1.6"/>
<line x1="58.80" y1="400.50" x2="61.80" y2="400.50" stroke="#404040" stroke-width="1.2" />
<line x1="58.80" y1="447.50" x2="61.80" y2="447.50" stroke="#404040" stroke-width="1.2" />
<line x1="73.21" y1="486.00" x2="73.21" y2="483.80" stroke="#404040" stroke-width="1.2" />
<line x1="87.92" y1="486.00" x2="87.92" y2="482.50" stroke="#404040" stroke-width="1.2" />
<line x1="102.63" y1="486.00" x2="102.63" y2="483.80" stroke="#404040" stroke-width="1.2" />
<line x1="117.34" y1="486.00" x2="117.34" y2="482.50" stroke="#404040" stroke-width="1.2" />
<line x1="132.05" y1="486.00" x2="132.05" y2="483.80" stroke="#404040" stroke-width="1.2" />
<line x1="146.76" y1="486.00" x2="146.76" y2="482.50" stroke="#404040" stroke-width="1.2" />
<line x1="161.47" y1="486.00" x2="161.47" y2="483.80" stroke="#404040" stroke-width="1.2" />
<line x1="176.18" y1="486.00" x2="176.18" y2="482.50" stroke="#404040" stroke-width="1.2" />
<line x1="190.89" y1="486.00" x2="190.89" y2="483.80" stroke="#404040" stroke-width="1.2" />
<line x1="205.60" y1="486.00" x2="205.60" y2="482.50" stroke="#404040" stroke-width="1.2" />
<line x1="220.31" y1="486.00" x2="220.31" y2="483.80" stroke="#404040" stroke-width="1.2" />
<line x1="235.02" y1="486.00" x2="235.02" y2="482.50" stroke="#404040" stroke-width="1.2" />
<line x1="249.73" y1="486.00" x2="249.73" y2="483.80" stroke="#404040" stroke-width="1.2" />
<text x="57.60" y="499.70" font-size="10.3" text-anchor="middle" fill="#111" stroke="#111" stroke-width="0.22" >290</text>
<text x="86.90" y="499.70" font-size="10.3" text-anchor="middle" fill="#111" stroke="#111" stroke-width="0.22" >289</text>
<text x="115.80" y="499.70" font-size="10.3" text-anchor="middle" fill="#111" stroke="#111" stroke-width="0.22" >288</text>
<text x="145.60" y="499.70" font-size="10.3" text-anchor="middle" fill="#111" stroke="#111" stroke-width="0.22" >287</text>
<text x="175.40" y="499.70" font-size="10.3" text-anchor="middle" fill="#111" stroke="#111" stroke-width="0.22" >286</text>
<text x="205.20" y="499.70" font-size="10.3" text-anchor="middle" fill="#111" stroke="#111" stroke-width="0.22" >285</text>
<text x="235.00" y="499.70" font-size="10.3" text-anchor="middle" fill="#111" stroke="#111" stroke-width="0.22" >284</text>
<text x="263.80" y="499.70" font-size="10.3" text-anchor="middle" fill="#111" stroke="#111" stroke-width="0.22" >283</text>
<text x="176.30" y="513.90" font-size="10.8" text-anchor="middle" fill="#111" stroke="#111" stroke-width="0.22" >Blinding energy (eV)</text>
<line x1="69.30" y1="401.40" x2="76.10" y2="401.40" stroke="#f028f0" stroke-width="1.6" />
<text x="82.60" y="406.00" font-size="10.8" text-anchor="start" fill="#111" stroke="#111" stroke-width="0.22" >O=C–OH</text>
<line x1="69.30" y1="411.20" x2="76.10" y2="411.20" stroke="#2a2ae8" stroke-width="1.6" />
<text x="82.60" y="416.20" font-size="10.8" text-anchor="start" fill="#111" stroke="#111" stroke-width="0.22" >C=O</text>
<line x1="69.30" y1="422.00" x2="76.10" y2="422.00" stroke="#26e026" stroke-width="1.6" />
<text x="82.60" y="426.60" font-size="10.8" text-anchor="start" fill="#111" stroke="#111" stroke-width="0.22" >C–OH</text>
<line x1="69.30" y1="431.70" x2="76.10" y2="431.70" stroke="#f02020" stroke-width="1.6" />
<text x="82.60" y="436.70" font-size="10.8" text-anchor="start" fill="#111" stroke="#111" stroke-width="0.22" >C–C, C=C</text>
<rect x="245.30" y="386.80" width="23.60" height="23.00" fill="#0a72c6"/>
<text x="257.10" y="401.30" font-size="12.5" font-weight="bold" text-anchor="middle" fill="#fff">d</text>
<path d="M284.60,473.10 L285.50,474.38 L286.40,473.19 L287.30,473.20 L288.20,473.58 L289.10,473.63 L290.00,472.34 L290.90,472.62 L291.80,471.99 L292.70,472.67 L293.60,472.47 L294.50,472.26 L295.40,472.01 L296.30,472.07 L297.20,471.80 L298.10,472.33 L299.00,472.70 L299.90,470.84 L300.80,471.59 L301.70,471.26 L302.60,471.54 L303.50,470.63 L304.40,470.84 L305.30,470.20 L306.20,470.89 L307.10,470.40 L308.00,470.05 L308.90,470.08 L309.80,469.53 L310.70,468.64 L311.60,469.51 L312.50,469.19 L313.40,468.86 L314.30,469.39 L315.20,469.51 L316.10,468.35 L317.00,468.51 L317.90,469.67 L318.80,469.61 L319.70,468.53 L320.60,468.31 L321.50,468.58 L322.40,468.65 L323.30,468.09 L324.20,468.87 L325.10,468.16 L326.00,468.14 L326.90,469.13 L327.80,468.26 L328.70,468.48 L329.60,468.74 L330.50,468.74 L331.40,468.03 L332.30,468.06 L333.20,467.43 L334.10,468.52 L335.00,467.77 L335.90,466.69 L336.80,467.06 L337.70,467.26 L338.60,467.00 L339.50,467.55 L340.40,467.21 L341.30,466.14 L342.20,466.25 L343.10,465.54 L344.00,466.18 L344.90,465.98 L345.80,467.09 L346.70,465.60 L347.60,464.30 L348.50,464.78 L349.40,464.92 L350.30,463.97 L351.20,463.88 L352.10,463.84 L353.00,463.88 L353.90,463.29 L354.80,462.56 L355.70,463.00 L356.60,461.91 L357.50,461.47 L358.40,460.56 L359.30,460.37 L360.20,460.60 L361.10,458.97 L362.00,459.26 L362.90,459.15 L363.80,458.10 L364.70,457.88 L365.60,456.67 L366.50,457.34 L367.40,456.68 L368.30,455.67 L369.20,454.08 L370.10,453.76 L371.00,454.05 L371.90,453.68 L372.80,452.26 L373.70,452.09 L374.60,450.61 L375.50,450.41 L376.40,450.17 L377.30,450.06 L378.20,448.80 L379.10,449.80 L380.00,449.83 L380.90,448.53 L381.80,448.47 L382.70,449.48 L383.60,449.23 L384.50,448.69 L385.40,450.66 L386.30,450.73 L387.20,450.82 L388.10,452.52 L389.00,451.89 L389.90,451.79 L390.80,452.60 L391.70,452.42 L392.60,452.96 L393.50,453.92 L394.40,453.80 L395.30,454.17 L396.20,455.49 L397.10,455.33 L398.00,455.54 L398.90,455.63 L399.80,455.79 L400.70,456.39 L401.60,455.69 L402.50,456.55 L403.40,454.94 L404.30,454.98 L405.20,454.02 L406.10,454.07 L407.00,453.96 L407.90,453.85 L408.80,452.19 L409.70,451.90 L410.60,451.00 L411.50,449.92 L412.40,448.64 L413.30,448.07 L414.20,445.87 L415.10,445.39 L416.00,443.68 L416.90,441.35 L417.80,438.97 L418.70,436.45 L419.60,435.72 L420.50,431.83 L421.40,431.14 L422.30,428.54 L423.20,425.92 L424.10,423.41 L425.00,422.41 L425.90,420.70 L426.80,417.38 L427.70,415.76 L428.60,414.50 L429.50,412.24 L430.40,411.21 L431.30,408.14 L432.20,407.02 L433.10,404.57 L434.00,404.70 L434.90,401.65 L435.80,399.25 L436.70,398.68 L437.60,397.20 L438.50,396.95 L439.40,394.82 L440.30,394.33 L441.20,394.40 L442.10,395.06 L443.00,394.69 L443.90,395.93 L444.80,396.54 L445.70,397.14 L446.60,398.40 L447.50,399.51 L448.40,400.47 L449.30,403.32 L450.20,404.10 L451.10,407.67 L452.00,410.00 L452.90,412.02 L453.80,414.33 L454.70,417.72 L455.60,421.54 L456.50,425.31 L457.40,428.71 L458.30,432.51 L459.20,434.81 L460.10,437.94 L461.00,439.67 L461.90,443.35 L462.80,445.43 L463.70,447.40 L464.60,450.32 L465.50,452.06 L466.40,452.18 L467.30,455.41 L468.20,456.39 L469.10,459.31 L470.00,461.60 L470.90,461.59 L471.80,463.31 L472.70,464.49 L473.60,466.05 L474.50,467.41 L475.40,468.91 L476.30,468.92 L477.20,471.28 L478.10,471.06 L479.00,472.62 L479.90,473.94 L480.80,474.51 L481.70,474.38 L482.60,475.14 L483.50,475.88 L484.40,476.66 L485.30,477.80 L486.20,477.10 L487.10,478.45 L488.00,478.96 L488.90,479.33 L489.80,479.65 L490.70,480.49 L491.60,480.26 L492.50,480.68 L493.40,480.74" fill="none" stroke="#7a1c1c" stroke-width="1.5" stroke-linejoin="round"/>
<path d="M284.70,476.61 L285.20,476.62 L285.70,476.63 L286.20,476.64 L286.70,476.65 L287.20,476.66 L287.70,476.67 L288.20,476.68 L288.70,476.69 L289.20,476.70 L289.70,476.71 L290.20,476.72 L290.70,476.73 L291.20,476.74 L291.70,476.74 L292.20,476.75 L292.70,476.76 L293.20,476.77 L293.70,476.78 L294.20,476.79 L294.70,476.80 L295.20,476.81 L295.70,476.82 L296.20,476.83 L296.70,476.84 L297.20,476.85 L297.70,476.86 L298.20,476.87 L298.70,476.88 L299.20,476.89 L299.70,476.90 L300.20,476.91 L300.70,476.92 L301.20,476.93 L301.70,476.94 L302.20,476.94 L302.70,476.95 L303.20,476.96 L303.70,476.97 L304.20,476.98 L304.70,476.99 L305.20,477.00 L305.70,477.01 L306.20,477.02 L306.70,477.03 L307.20,477.04 L307.70,477.05 L308.20,477.06 L308.70,477.07 L309.20,477.08 L309.70,477.09 L310.20,477.10 L310.70,477.11 L311.20,477.12 L311.70,477.13 L312.20,477.13 L312.70,477.14 L313.20,477.15 L313.70,477.16 L314.20,477.17 L314.70,477.18 L315.20,477.19 L315.70,477.20 L316.20,477.21 L316.70,477.22 L317.20,477.23 L317.70,477.24 L318.20,477.25 L318.70,477.26 L319.20,477.27 L319.70,477.28 L320.20,477.29 L320.70,477.30 L321.20,477.31 L321.70,477.32 L322.20,477.33 L322.70,477.33 L323.20,477.34 L323.70,477.35 L324.20,477.36 L324.70,477.37 L325.20,477.38 L325.70,477.39 L326.20,477.40 L326.70,477.41 L327.20,477.42 L327.70,477.43 L328.20,477.44 L328.70,477.45 L329.20,477.46 L329.70,477.47 L330.20,477.48 L330.70,477.49 L331.20,477.50 L331.70,477.51 L332.20,477.52 L332.70,477.53 L333.20,477.53 L333.70,477.54 L334.20,477.55 L334.70,477.56 L335.20,477.57 L335.70,477.58 L336.20,477.59 L336.70,477.60 L337.20,477.61 L337.70,477.62 L338.20,477.63 L338.70,477.64 L339.20,477.65 L339.70,477.66 L340.20,477.67 L340.70,477.68 L341.20,477.69 L341.70,477.70 L342.20,477.71 L342.70,477.72 L343.20,477.73 L343.70,477.73 L344.20,477.74 L344.70,477.75 L345.20,477.76 L345.70,477.77 L346.20,477.78 L346.70,477.79 L347.20,477.80 L347.70,477.81 L348.20,477.82 L348.70,477.83 L349.20,477.84 L349.70,477.85 L350.20,477.86 L350.70,477.87 L351.20,477.88 L351.70,477.89 L352.20,477.90 L352.70,477.91 L353.20,477.92 L353.70,477.93 L354.20,477.93 L354.70,477.94 L355.20,477.95 L355.70,477.96 L356.20,477.97 L356.70,477.98 L357.20,477.99 L357.70,478.00 L358.20,478.01 L358.70,478.02 L359.20,478.03 L359.70,478.04 L360.20,478.05 L360.70,478.06 L361.20,478.07 L361.70,478.08 L362.20,478.09 L362.70,478.10 L363.20,478.11 L363.70,478.12 L364.20,478.12 L364.70,478.13 L365.20,478.14 L365.70,478.15 L366.20,478.16 L366.70,478.17 L367.20,478.18 L367.70,478.19 L368.20,478.20 L368.70,478.21 L369.20,478.22 L369.70,478.23 L370.20,478.24 L370.70,478.25 L371.20,478.25 L371.70,478.26 L372.20,478.27 L372.70,478.28 L373.20,478.29 L373.70,478.30 L374.20,478.31 L374.70,478.31 L375.20,478.32 L375.70,478.33 L376.20,478.34 L376.70,478.34 L377.20,478.35 L377.70,478.36 L378.20,478.36 L378.70,478.37 L379.20,478.38 L379.70,478.38 L380.20,478.38 L380.70,478.39 L381.20,478.39 L381.70,478.39 L382.20,478.39 L382.70,478.39 L383.20,478.39 L383.70,478.39 L384.20,478.39 L384.70,478.38 L385.20,478.38 L385.70,478.37 L386.20,478.36 L386.70,478.35 L387.20,478.33 L387.70,478.31 L388.20,478.29 L388.70,478.27 L389.20,478.24 L389.70,478.21 L390.20,478.18 L390.70,478.14 L391.20,478.10 L391.70,478.05 L392.20,478.00 L392.70,477.94 L393.20,477.87 L393.70,477.80 L394.20,477.72 L394.70,477.64 L395.20,477.54 L395.70,477.43 L396.20,477.32 L396.70,477.19 L397.20,477.06 L397.70,476.91 L398.20,476.75 L398.70,476.58 L399.20,476.39 L399.70,476.19 L400.20,475.97 L400.70,475.73 L401.20,475.48 L401.70,475.21 L402.20,474.92 L402.70,474.60 L403.20,474.27 L403.70,473.92 L404.20,473.54 L404.70,473.13 L405.20,472.70 L405.70,472.24 L406.20,471.76 L406.70,471.24 L407.20,470.70 L407.70,470.13 L408.20,469.52 L408.70,468.88 L409.20,468.21 L409.70,467.50 L410.20,466.76 L410.70,465.98 L411.20,465.16 L411.70,464.31 L412.20,463.42 L412.70,462.49 L413.20,461.53 L413.70,460.52 L414.20,459.48 L414.70,458.39 L415.20,457.27 L415.70,456.11 L416.20,454.91 L416.70,453.67 L417.20,452.40 L417.70,451.09 L418.20,449.74 L418.70,448.37 L419.20,446.95 L419.70,445.51 L420.20,444.04 L420.70,442.53 L421.20,441.01 L421.70,439.45 L422.20,437.88 L422.70,436.29 L423.20,434.68 L423.70,433.05 L424.20,431.42 L424.70,429.77 L425.20,428.12 L425.70,426.47 L426.20,424.82 L426.70,423.17 L427.20,421.54 L427.70,419.91 L428.20,418.30 L428.70,416.71 L429.20,415.15 L429.70,413.61 L430.20,412.10 L430.70,410.63 L431.20,409.19 L431.70,407.80 L432.20,406.45 L432.70,405.15 L433.20,403.91 L433.70,402.72 L434.20,401.59 L434.70,400.53 L435.20,399.53 L435.70,398.60 L436.20,397.75 L436.70,396.97 L437.20,396.26 L437.70,395.63 L438.20,395.09 L438.70,394.63 L439.20,394.25 L439.70,393.95 L440.20,393.75 L440.70,393.63 L441.20,393.59 L441.70,393.64 L442.20,393.78 L442.70,394.01 L443.20,394.32 L443.70,394.72 L444.20,395.20 L444.70,395.77 L445.20,396.41 L445.70,397.14 L446.20,397.94 L446.70,398.81 L447.20,399.76 L447.70,400.78 L448.20,401.86 L448.70,403.01 L449.20,404.21 L449.70,405.48 L450.20,406.79 L450.70,408.16 L451.20,409.57 L451.70,411.03 L452.20,412.52 L452.70,414.05 L453.20,415.60 L453.70,417.19 L454.20,418.80 L454.70,420.43 L455.20,422.07 L455.70,423.73 L456.20,425.39 L456.70,427.06 L457.20,428.73 L457.70,430.40 L458.20,432.06 L458.70,433.72 L459.20,435.36 L459.70,436.99 L460.20,438.60 L460.70,440.20 L461.20,441.77 L461.70,443.31 L462.20,444.84 L462.70,446.33 L463.20,447.79 L463.70,449.22 L464.20,450.62 L464.70,451.98 L465.20,453.31 L465.70,454.61 L466.20,455.86 L466.70,457.08 L467.20,458.26 L467.70,459.40 L468.20,460.50 L468.70,461.57 L469.20,462.59 L469.70,463.58 L470.20,464.53 L470.70,465.43 L471.20,466.31 L471.70,467.14 L472.20,467.94 L472.70,468.70 L473.20,469.43 L473.70,470.12 L474.20,470.78 L474.70,471.40 L475.20,471.99 L475.70,472.56 L476.20,473.09 L476.70,473.59 L477.20,474.07 L477.70,474.52 L478.20,474.94 L478.70,475.34 L479.20,475.72 L479.70,476.07 L480.20,476.40 L480.70,476.71 L481.20,477.00 L481.70,477.28 L482.20,477.53 L482.70,477.77 L483.20,477.99 L483.70,478.20 L484.20,478.39 L484.70,478.57 L485.20,478.73 L485.70,478.89 L486.20,479.03 L486.70,479.17 L487.20,479.29 L487.70,479.41 L488.20,479.51 L488.70,479.61 L489.20,479.70 L489.70,479.79 L490.20,479.86 L490.70,479.94 L491.20,480.00 L491.70,480.07 L492.20,480.12 L492.70,480.18 L493.20,480.22" fill="none" stroke="#f02020" stroke-width="1.5"/>
<path d="M284.70,476.61 L285.20,476.62 L285.70,476.63 L286.20,476.64 L286.70,476.65 L287.20,476.66 L287.70,476.67 L288.20,476.68 L288.70,476.69 L289.20,476.70 L289.70,476.71 L290.20,476.72 L290.70,476.73 L291.20,476.74 L291.70,476.74 L292.20,476.75 L292.70,476.76 L293.20,476.77 L293.70,476.78 L294.20,476.79 L294.70,476.80 L295.20,476.81 L295.70,476.82 L296.20,476.83 L296.70,476.84 L297.20,476.85 L297.70,476.86 L298.20,476.87 L298.70,476.88 L299.20,476.89 L299.70,476.90 L300.20,476.91 L300.70,476.92 L301.20,476.93 L301.70,476.94 L302.20,476.94 L302.70,476.95 L303.20,476.96 L303.70,476.97 L304.20,476.98 L304.70,476.99 L305.20,477.00 L305.70,477.01 L306.20,477.02 L306.70,477.03 L307.20,477.04 L307.70,477.05 L308.20,477.06 L308.70,477.07 L309.20,477.08 L309.70,477.09 L310.20,477.10 L310.70,477.11 L311.20,477.12 L311.70,477.13 L312.20,477.13 L312.70,477.14 L313.20,477.15 L313.70,477.16 L314.20,477.17 L314.70,477.18 L315.20,477.19 L315.70,477.20 L316.20,477.21 L316.70,477.22 L317.20,477.23 L317.70,477.24 L318.20,477.25 L318.70,477.26 L319.20,477.27 L319.70,477.28 L320.20,477.29 L320.70,477.30 L321.20,477.31 L321.70,477.32 L322.20,477.33 L322.70,477.33 L323.20,477.34 L323.70,477.35 L324.20,477.36 L324.70,477.37 L325.20,477.38 L325.70,477.39 L326.20,477.40 L326.70,477.41 L327.20,477.42 L327.70,477.43 L328.20,477.44 L328.70,477.45 L329.20,477.46 L329.70,477.47 L330.20,477.48 L330.70,477.49 L331.20,477.50 L331.70,477.51 L332.20,477.52 L332.70,477.53 L333.20,477.53 L333.70,477.54 L334.20,477.55 L334.70,477.56 L335.20,477.57 L335.70,477.58 L336.20,477.59 L336.70,477.60 L337.20,477.61 L337.70,477.62 L338.20,477.63 L338.70,477.64 L339.20,477.65 L339.70,477.66 L340.20,477.67 L340.70,477.68 L341.20,477.69 L341.70,477.70 L342.20,477.71 L342.70,477.71 L343.20,477.72 L343.70,477.73 L344.20,477.74 L344.70,477.75 L345.20,477.76 L345.70,477.77 L346.20,477.78 L346.70,477.79 L347.20,477.80 L347.70,477.80 L348.20,477.81 L348.70,477.82 L349.20,477.83 L349.70,477.84 L350.20,477.85 L350.70,477.85 L351.20,477.86 L351.70,477.87 L352.20,477.87 L352.70,477.88 L353.20,477.89 L353.70,477.89 L354.20,477.90 L354.70,477.90 L355.20,477.90 L355.70,477.90 L356.20,477.91 L356.70,477.91 L357.20,477.91 L357.70,477.90 L358.20,477.90 L358.70,477.90 L359.20,477.89 L359.70,477.88 L360.20,477.87 L360.70,477.86 L361.20,477.85 L361.70,477.83 L362.20,477.81 L362.70,477.79 L363.20,477.77 L363.70,477.74 L364.20,477.71 L364.70,477.67 L365.20,477.63 L365.70,477.59 L366.20,477.54 L366.70,477.49 L367.20,477.43 L367.70,477.37 L368.20,477.30 L368.70,477.22 L369.20,477.14 L369.70,477.05 L370.20,476.95 L370.70,476.85 L371.20,476.73 L371.70,476.61 L372.20,476.49 L372.70,476.35 L373.20,476.20 L373.70,476.05 L374.20,475.88 L374.70,475.71 L375.20,475.53 L375.70,475.33 L376.20,475.13 L376.70,474.92 L377.20,474.70 L377.70,474.46 L378.20,474.22 L378.70,473.97 L379.20,473.71 L379.70,473.44 L380.20,473.16 L380.70,472.87 L381.20,472.57 L381.70,472.27 L382.20,471.96 L382.70,471.64 L383.20,471.32 L383.70,470.99 L384.20,470.66 L384.70,470.32 L385.20,469.99 L385.70,469.65 L386.20,469.31 L386.70,468.97 L387.20,468.63 L387.70,468.29 L388.20,467.96 L388.70,467.63 L389.20,467.31 L389.70,467.00 L390.20,466.69 L390.70,466.40 L391.20,466.11 L391.70,465.84 L392.20,465.58 L392.70,465.33 L393.20,465.10 L393.70,464.88 L394.20,464.68 L394.70,464.50 L395.20,464.34 L395.70,464.20 L396.20,464.08 L396.70,463.98 L397.20,463.90 L397.70,463.84 L398.20,463.80 L398.70,463.79 L399.20,463.79 L399.70,463.82 L400.20,463.85 L400.70,463.90 L401.20,463.97 L401.70,464.05 L402.20,464.15 L402.70,464.25 L403.20,464.38 L403.70,464.51 L404.20,464.66 L404.70,464.82 L405.20,464.99 L405.70,465.17 L406.20,465.37 L406.70,465.57 L407.20,465.79 L407.70,466.01 L408.20,466.25 L408.70,466.49 L409.20,466.74 L409.70,467.00 L410.20,467.26 L410.70,467.53 L411.20,467.80 L411.70,468.08 L412.20,468.37 L412.70,468.65 L413.20,468.94 L413.70,469.23 L414.20,469.52 L414.70,469.82 L415.20,470.11 L415.70,470.41 L416.20,470.70 L416.70,470.99 L417.20,471.28 L417.70,471.57 L418.20,471.85 L418.70,472.13 L419.20,472.41 L419.70,472.69 L420.20,472.96 L420.70,473.22 L421.20,473.48 L421.70,473.74 L422.20,473.99 L422.70,474.23 L423.20,474.47 L423.70,474.70 L424.20,474.93 L424.70,475.15 L425.20,475.36 L425.70,475.57 L426.20,475.77 L426.70,475.96 L427.20,476.15 L427.70,476.33 L428.20,476.51 L428.70,476.67 L429.20,476.84 L429.70,476.99 L430.20,477.14 L430.70,477.28 L431.20,477.42 L431.70,477.55 L432.20,477.68 L432.70,477.80 L433.20,477.91 L433.70,478.02 L434.20,478.12 L434.70,478.22 L435.20,478.32 L435.70,478.41 L436.20,478.49 L436.70,478.57 L437.20,478.65 L437.70,478.72 L438.20,478.79 L438.70,478.85 L439.20,478.91 L439.70,478.97 L440.20,479.03 L440.70,479.08 L441.20,479.13 L441.70,479.17 L442.20,479.22 L442.70,479.26 L443.20,479.30 L443.70,479.34 L444.20,479.37 L444.70,479.40 L445.20,479.44 L445.70,479.46 L446.20,479.49 L446.70,479.52 L447.20,479.54 L447.70,479.57 L448.20,479.59 L448.70,479.61 L449.20,479.63 L449.70,479.65 L450.20,479.67 L450.70,479.69 L451.20,479.71 L451.70,479.72 L452.20,479.74 L452.70,479.76 L453.20,479.77 L453.70,479.79 L454.20,479.80 L454.70,479.81 L455.20,479.83 L455.70,479.84 L456.20,479.85 L456.70,479.86 L457.20,479.88 L457.70,479.89 L458.20,479.90 L458.70,479.91 L459.20,479.92 L459.70,479.93 L460.20,479.94 L460.70,479.95 L461.20,479.96 L461.70,479.97 L462.20,479.98 L462.70,479.99 L463.20,480.01 L463.70,480.02 L464.20,480.03 L464.70,480.04 L465.20,480.05 L465.70,480.05 L466.20,480.06 L466.70,480.07 L467.20,480.08 L467.70,480.09 L468.20,480.10 L468.70,480.11 L469.20,480.12 L469.70,480.13 L470.20,480.14 L470.70,480.15 L471.20,480.16 L471.70,480.17 L472.20,480.18 L472.70,480.19 L473.20,480.20 L473.70,480.21 L474.20,480.22 L474.70,480.23 L475.20,480.24 L475.70,480.25 L476.20,480.26 L476.70,480.27 L477.20,480.28 L477.70,480.29 L478.20,480.30 L478.70,480.30 L479.20,480.31 L479.70,480.32 L480.20,480.33 L480.70,480.34 L481.20,480.35 L481.70,480.36 L482.20,480.37 L482.70,480.38 L483.20,480.39 L483.70,480.40 L484.20,480.41 L484.70,480.42 L485.20,480.43 L485.70,480.44 L486.20,480.45 L486.70,480.46 L487.20,480.47 L487.70,480.48 L488.20,480.49 L488.70,480.50 L489.20,480.50 L489.70,480.51 L490.20,480.52 L490.70,480.53 L491.20,480.54 L491.70,480.55 L492.20,480.56 L492.70,480.57 L493.20,480.58" fill="none" stroke="#26e026" stroke-width="1.5"/>
<path d="M284.70,476.61 L285.20,476.62 L285.70,476.63 L286.20,476.64 L286.70,476.65 L287.20,476.66 L287.70,476.67 L288.20,476.68 L288.70,476.69 L289.20,476.70 L289.70,476.71 L290.20,476.72 L290.70,476.73 L291.20,476.74 L291.70,476.74 L292.20,476.75 L292.70,476.76 L293.20,476.77 L293.70,476.78 L294.20,476.79 L294.70,476.80 L295.20,476.81 L295.70,476.82 L296.20,476.83 L296.70,476.84 L297.20,476.85 L297.70,476.86 L298.20,476.87 L298.70,476.88 L299.20,476.89 L299.70,476.90 L300.20,476.91 L300.70,476.92 L301.20,476.93 L301.70,476.94 L302.20,476.94 L302.70,476.95 L303.20,476.96 L303.70,476.97 L304.20,476.98 L304.70,476.99 L305.20,477.00 L305.70,477.01 L306.20,477.02 L306.70,477.03 L307.20,477.04 L307.70,477.05 L308.20,477.06 L308.70,477.07 L309.20,477.08 L309.70,477.09 L310.20,477.10 L310.70,477.11 L311.20,477.12 L311.70,477.12 L312.20,477.13 L312.70,477.14 L313.20,477.15 L313.70,477.16 L314.20,477.17 L314.70,477.18 L315.20,477.19 L315.70,477.20 L316.20,477.21 L316.70,477.22 L317.20,477.23 L317.70,477.24 L318.20,477.24 L318.70,477.25 L319.20,477.26 L319.70,477.27 L320.20,477.28 L320.70,477.29 L321.20,477.29 L321.70,477.30 L322.20,477.31 L322.70,477.32 L323.20,477.32 L323.70,477.33 L324.20,477.34 L324.70,477.34 L325.20,477.35 L325.70,477.35 L326.20,477.36 L326.70,477.36 L327.20,477.36 L327.70,477.37 L328.20,477.37 L328.70,477.37 L329.20,477.37 L329.70,477.36 L330.20,477.36 L330.70,477.36 L331.20,477.35 L331.70,477.34 L332.20,477.33 L332.70,477.32 L333.20,477.31 L333.70,477.29 L334.20,477.27 L334.70,477.25 L335.20,477.22 L335.70,477.20 L336.20,477.16 L336.70,477.13 L337.20,477.09 L337.70,477.05 L338.20,477.00 L338.70,476.94 L339.20,476.89 L339.70,476.82 L340.20,476.75 L340.70,476.68 L341.20,476.59 L341.70,476.50 L342.20,476.41 L342.70,476.30 L343.20,476.19 L343.70,476.07 L344.20,475.94 L344.70,475.80 L345.20,475.65 L345.70,475.49 L346.20,475.32 L346.70,475.14 L347.20,474.95 L347.70,474.75 L348.20,474.53 L348.70,474.31 L349.20,474.07 L349.70,473.82 L350.20,473.56 L350.70,473.29 L351.20,473.00 L351.70,472.70 L352.20,472.39 L352.70,472.06 L353.20,471.73 L353.70,471.38 L354.20,471.02 L354.70,470.65 L355.20,470.26 L355.70,469.87 L356.20,469.47 L356.70,469.05 L357.20,468.63 L357.70,468.20 L358.20,467.76 L358.70,467.31 L359.20,466.86 L359.70,466.40 L360.20,465.94 L360.70,465.48 L361.20,465.01 L361.70,464.54 L362.20,464.08 L362.70,463.61 L363.20,463.15 L363.70,462.69 L364.20,462.24 L364.70,461.80 L365.20,461.36 L365.70,460.93 L366.20,460.52 L366.70,460.12 L367.20,459.73 L367.70,459.35 L368.20,459.00 L368.70,458.66 L369.20,458.34 L369.70,458.04 L370.20,457.76 L370.70,457.50 L371.20,457.27 L371.70,457.06 L372.20,456.88 L372.70,456.72 L373.20,456.59 L373.70,456.49 L374.20,456.41 L374.70,456.36 L375.20,456.34 L375.70,456.35 L376.20,456.38 L376.70,456.44 L377.20,456.53 L377.70,456.65 L378.20,456.80 L378.70,456.97 L379.20,457.17 L379.70,457.39 L380.20,457.64 L380.70,457.91 L381.20,458.20 L381.70,458.51 L382.20,458.85 L382.70,459.20 L383.20,459.57 L383.70,459.96 L384.20,460.37 L384.70,460.79 L385.20,461.22 L385.70,461.66 L386.20,462.12 L386.70,462.58 L387.20,463.05 L387.70,463.52 L388.20,464.00 L388.70,464.49 L389.20,464.97 L389.70,465.46 L390.20,465.94 L390.70,466.43 L391.20,466.91 L391.70,467.39 L392.20,467.86 L392.70,468.32 L393.20,468.78 L393.70,469.24 L394.20,469.68 L394.70,470.12 L395.20,470.54 L395.70,470.96 L396.20,471.36 L396.70,471.75 L397.20,472.14 L397.70,472.51 L398.20,472.86 L398.70,473.21 L399.20,473.54 L399.70,473.86 L400.20,474.17 L400.70,474.47 L401.20,474.75 L401.70,475.02 L402.20,475.28 L402.70,475.53 L403.20,475.76 L403.70,475.98 L404.20,476.20 L404.70,476.40 L405.20,476.59 L405.70,476.77 L406.20,476.94 L406.70,477.10 L407.20,477.25 L407.70,477.39 L408.20,477.52 L408.70,477.65 L409.20,477.77 L409.70,477.88 L410.20,477.98 L410.70,478.08 L411.20,478.17 L411.70,478.25 L412.20,478.33 L412.70,478.40 L413.20,478.47 L413.70,478.54 L414.20,478.59 L414.70,478.65 L415.20,478.70 L415.70,478.75 L416.20,478.79 L416.70,478.83 L417.20,478.87 L417.70,478.91 L418.20,478.94 L418.70,478.97 L419.20,479.00 L419.70,479.03 L420.20,479.06 L420.70,479.08 L421.20,479.10 L421.70,479.12 L422.20,479.14 L422.70,479.16 L423.20,479.18 L423.70,479.20 L424.20,479.22 L424.70,479.23 L425.20,479.25 L425.70,479.26 L426.20,479.27 L426.70,479.29 L427.20,479.30 L427.70,479.31 L428.20,479.33 L428.70,479.34 L429.20,479.35 L429.70,479.36 L430.20,479.37 L430.70,479.38 L431.20,479.39 L431.70,479.40 L432.20,479.41 L432.70,479.42 L433.20,479.43 L433.70,479.44 L434.20,479.45 L434.70,479.46 L435.20,479.47 L435.70,479.48 L436.20,479.49 L436.70,479.50 L437.20,479.51 L437.70,479.52 L438.20,479.53 L438.70,479.54 L439.20,479.55 L439.70,479.56 L440.20,479.57 L440.70,479.58 L441.20,479.59 L441.70,479.60 L442.20,479.61 L442.70,479.62 L443.20,479.63 L443.70,479.64 L444.20,479.65 L444.70,479.66 L445.20,479.67 L445.70,479.68 L446.20,479.69 L446.70,479.70 L447.20,479.71 L447.70,479.71 L448.20,479.72 L448.70,479.73 L449.20,479.74 L449.70,479.75 L450.20,479.76 L450.70,479.77 L451.20,479.78 L451.70,479.79 L452.20,479.80 L452.70,479.81 L453.20,479.82 L453.70,479.83 L454.20,479.84 L454.70,479.85 L455.20,479.86 L455.70,479.87 L456.20,479.88 L456.70,479.89 L457.20,479.90 L457.70,479.91 L458.20,479.91 L458.70,479.92 L459.20,479.93 L459.70,479.94 L460.20,479.95 L460.70,479.96 L461.20,479.97 L461.70,479.98 L462.20,479.99 L462.70,480.00 L463.20,480.01 L463.70,480.02 L464.20,480.03 L464.70,480.04 L465.20,480.05 L465.70,480.06 L466.20,480.07 L466.70,480.08 L467.20,480.09 L467.70,480.10 L468.20,480.10 L468.70,480.11 L469.20,480.12 L469.70,480.13 L470.20,480.14 L470.70,480.15 L471.20,480.16 L471.70,480.17 L472.20,480.18 L472.70,480.19 L473.20,480.20 L473.70,480.21 L474.20,480.22 L474.70,480.23 L475.20,480.24 L475.70,480.25 L476.20,480.26 L476.70,480.27 L477.20,480.28 L477.70,480.29 L478.20,480.30 L478.70,480.30 L479.20,480.31 L479.70,480.32 L480.20,480.33 L480.70,480.34 L481.20,480.35 L481.70,480.36 L482.20,480.37 L482.70,480.38 L483.20,480.39 L483.70,480.40 L484.20,480.41 L484.70,480.42 L485.20,480.43 L485.70,480.44 L486.20,480.45 L486.70,480.46 L487.20,480.47 L487.70,480.48 L488.20,480.49 L488.70,480.50 L489.20,480.50 L489.70,480.51 L490.20,480.52 L490.70,480.53 L491.20,480.54 L491.70,480.55 L492.20,480.56 L492.70,480.57 L493.20,480.58" fill="none" stroke="#2a2ae8" stroke-width="1.5"/>
<path d="M284.70,475.24 L285.20,475.19 L285.70,475.14 L286.20,475.08 L286.70,475.02 L287.20,474.97 L287.70,474.90 L288.20,474.84 L288.70,474.78 L289.20,474.71 L289.70,474.64 L290.20,474.57 L290.70,474.50 L291.20,474.43 L291.70,474.36 L292.20,474.28 L292.70,474.20 L293.20,474.12 L293.70,474.04 L294.20,473.96 L294.70,473.88 L295.20,473.80 L295.70,473.71 L296.20,473.63 L296.70,473.54 L297.20,473.46 L297.70,473.37 L298.20,473.28 L298.70,473.19 L299.20,473.10 L299.70,473.01 L300.20,472.92 L300.70,472.84 L301.20,472.75 L301.70,472.66 L302.20,472.57 L302.70,472.48 L303.20,472.40 L303.70,472.31 L304.20,472.23 L304.70,472.14 L305.20,472.06 L305.70,471.98 L306.20,471.90 L306.70,471.82 L307.20,471.74 L307.70,471.67 L308.20,471.60 L308.70,471.53 L309.20,471.46 L309.70,471.39 L310.20,471.33 L310.70,471.27 L311.20,471.22 L311.70,471.16 L312.20,471.11 L312.70,471.06 L313.20,471.02 L313.70,470.98 L314.20,470.94 L314.70,470.91 L315.20,470.88 L315.70,470.85 L316.20,470.83 L316.70,470.81 L317.20,470.79 L317.70,470.78 L318.20,470.78 L318.70,470.77 L319.20,470.77 L319.70,470.78 L320.20,470.79 L320.70,470.80 L321.20,470.82 L321.70,470.84 L322.20,470.86 L322.70,470.89 L323.20,470.93 L323.70,470.96 L324.20,471.01 L324.70,471.05 L325.20,471.10 L325.70,471.15 L326.20,471.21 L326.70,471.27 L327.20,471.33 L327.70,471.39 L328.20,471.46 L328.70,471.54 L329.20,471.61 L329.70,471.69 L330.20,471.77 L330.70,471.85 L331.20,471.94 L331.70,472.03 L332.20,472.12 L332.70,472.21 L333.20,472.31 L333.70,472.40 L334.20,472.50 L334.70,472.60 L335.20,472.70 L335.70,472.81 L336.20,472.91 L336.70,473.01 L337.20,473.12 L337.70,473.23 L338.20,473.33 L338.70,473.44 L339.20,473.55 L339.70,473.66 L340.20,473.77 L340.70,473.87 L341.20,473.98 L341.70,474.09 L342.20,474.20 L342.70,474.30 L343.20,474.41 L343.70,474.51 L344.20,474.62 L344.70,474.72 L345.20,474.82 L345.70,474.93 L346.20,475.03 L346.70,475.13 L347.20,475.22 L347.70,475.32 L348.20,475.41 L348.70,475.51 L349.20,475.60 L349.70,475.69 L350.20,475.78 L350.70,475.87 L351.20,475.95 L351.70,476.04 L352.20,476.12 L352.70,476.20 L353.20,476.28 L353.70,476.35 L354.20,476.43 L354.70,476.50 L355.20,476.57 L355.70,476.64 L356.20,476.71 L356.70,476.78 L357.20,476.84 L357.70,476.90 L358.20,476.96 L358.70,477.02 L359.20,477.08 L359.70,477.13 L360.20,477.19 L360.70,477.24 L361.20,477.29 L361.70,477.34 L362.20,477.39 L362.70,477.43 L363.20,477.48 L363.70,477.52 L364.20,477.56 L364.70,477.60 L365.20,477.64 L365.70,477.68 L366.20,477.71 L366.70,477.75 L367.20,477.78 L367.70,477.81 L368.20,477.84 L368.70,477.88 L369.20,477.90 L369.70,477.93 L370.20,477.96 L370.70,477.99 L371.20,478.01 L371.70,478.04 L372.20,478.06 L372.70,478.08 L373.20,478.11 L373.70,478.13 L374.20,478.15 L374.70,478.17 L375.20,478.19 L375.70,478.21 L376.20,478.23 L376.70,478.25 L377.20,478.26 L377.70,478.28 L378.20,478.30 L378.70,478.31 L379.20,478.33 L379.70,478.34 L380.20,478.36 L380.70,478.37 L381.20,478.39 L381.70,478.40 L382.20,478.42 L382.70,478.43 L383.20,478.44 L383.70,478.46 L384.20,478.47 L384.70,478.48 L385.20,478.49 L385.70,478.50 L386.20,478.52 L386.70,478.53 L387.20,478.54 L387.70,478.55 L388.20,478.56 L388.70,478.57 L389.20,478.58 L389.70,478.60 L390.20,478.61 L390.70,478.62 L391.20,478.63 L391.70,478.64 L392.20,478.65 L392.70,478.66 L393.20,478.67 L393.70,478.68 L394.20,478.69 L394.70,478.70 L395.20,478.71 L395.70,478.72 L396.20,478.73 L396.70,478.74 L397.20,478.75 L397.70,478.76 L398.20,478.77 L398.70,478.78 L399.20,478.79 L399.70,478.80 L400.20,478.81 L400.70,478.82 L401.20,478.83 L401.70,478.84 L402.20,478.85 L402.70,478.86 L403.20,478.87 L403.70,478.88 L404.20,478.89 L404.70,478.90 L405.20,478.90 L405.70,478.91 L406.20,478.92 L406.70,478.93 L407.20,478.94 L407.70,478.95 L408.20,478.96 L408.70,478.97 L409.20,478.98 L409.70,478.99 L410.20,479.00 L410.70,479.01 L411.20,479.02 L411.70,479.03 L412.20,479.04 L412.70,479.05 L413.20,479.06 L413.70,479.07 L414.20,479.08 L414.70,479.09 L415.20,479.10 L415.70,479.11 L416.20,479.11 L416.70,479.12 L417.20,479.13 L417.70,479.14 L418.20,479.15 L418.70,479.16 L419.20,479.17 L419.70,479.18 L420.20,479.19 L420.70,479.20 L421.20,479.21 L421.70,479.22 L422.20,479.23 L422.70,479.24 L423.20,479.25 L423.70,479.26 L424.20,479.27 L424.70,479.28 L425.20,479.29 L425.70,479.30 L426.20,479.31 L426.70,479.31 L427.20,479.32 L427.70,479.33 L428.20,479.34 L428.70,479.35 L429.20,479.36 L429.70,479.37 L430.20,479.38 L430.70,479.39 L431.20,479.40 L431.70,479.41 L432.20,479.42 L432.70,479.43 L433.20,479.44 L433.70,479.45 L434.20,479.46 L434.70,479.47 L435.20,479.48 L435.70,479.49 L436.20,479.50 L436.70,479.51 L437.20,479.51 L437.70,479.52 L438.20,479.53 L438.70,479.54 L439.20,479.55 L439.70,479.56 L440.20,479.57 L440.70,479.58 L441.20,479.59 L441.70,479.60 L442.20,479.61 L442.70,479.62 L443.20,479.63 L443.70,479.64 L444.20,479.65 L444.70,479.66 L445.20,479.67 L445.70,479.68 L446.20,479.69 L446.70,479.70 L447.20,479.71 L447.70,479.71 L448.20,479.72 L448.70,479.73 L449.20,479.74 L449.70,479.75 L450.20,479.76 L450.70,479.77 L451.20,479.78 L451.70,479.79 L452.20,479.80 L452.70,479.81 L453.20,479.82 L453.70,479.83 L454.20,479.84 L454.70,479.85 L455.20,479.86 L455.70,479.87 L456.20,479.88 L456.70,479.89 L457.20,479.90 L457.70,479.91 L458.20,479.91 L458.70,479.92 L459.20,479.93 L459.70,479.94 L460.20,479.95 L460.70,479.96 L461.20,479.97 L461.70,479.98 L462.20,479.99 L462.70,480.00 L463.20,480.01 L463.70,480.02 L464.20,480.03 L464.70,480.04 L465.20,480.05 L465.70,480.06 L466.20,480.07 L466.70,480.08 L467.20,480.09 L467.70,480.10 L468.20,480.10 L468.70,480.11 L469.20,480.12 L469.70,480.13 L470.20,480.14 L470.70,480.15 L471.20,480.16 L471.70,480.17 L472.20,480.18 L472.70,480.19 L473.20,480.20 L473.70,480.21 L474.20,480.22 L474.70,480.23 L475.20,480.24 L475.70,480.25 L476.20,480.26 L476.70,480.27 L477.20,480.28 L477.70,480.29 L478.20,480.30 L478.70,480.30 L479.20,480.31 L479.70,480.32 L480.20,480.33 L480.70,480.34 L481.20,480.35 L481.70,480.36 L482.20,480.37 L482.70,480.38 L483.20,480.39 L483.70,480.40 L484.20,480.41 L484.70,480.42 L485.20,480.43 L485.70,480.44 L486.20,480.45 L486.70,480.46 L487.20,480.47 L487.70,480.48 L488.20,480.49 L488.70,480.50 L489.20,480.50 L489.70,480.51 L490.20,480.52 L490.70,480.53 L491.20,480.54 L491.70,480.55 L492.20,480.56 L492.70,480.57 L493.20,480.58" fill="none" stroke="#f028f0" stroke-width="1.5"/>
<rect x="284.10" y="386.60" width="210.10" height="99.10" fill="none" stroke="#404040" stroke-width="1.6"/>
<line x1="284.10" y1="398.80" x2="287.10" y2="398.80" stroke="#404040" stroke-width="1.2" />
<line x1="284.10" y1="440.60" x2="287.10" y2="440.60" stroke="#404040" stroke-width="1.2" />
<line x1="298.77" y1="485.70" x2="298.77" y2="483.50" stroke="#404040" stroke-width="1.2" />
<line x1="313.43" y1="485.70" x2="313.43" y2="482.20" stroke="#404040" stroke-width="1.2" />
<line x1="328.10" y1="485.70" x2="328.10" y2="483.50" stroke="#404040" stroke-width="1.2" />
<line x1="342.76" y1="485.70" x2="342.76" y2="482.20" stroke="#404040" stroke-width="1.2" />
<line x1="357.43" y1="485.70" x2="357.43" y2="483.50" stroke="#404040" stroke-width="1.2" />
<line x1="372.09" y1="485.70" x2="372.09" y2="482.20" stroke="#404040" stroke-width="1.2" />
<line x1="386.75" y1="485.70" x2="386.75" y2="483.50" stroke="#404040" stroke-width="1.2" />
<line x1="401.42" y1="485.70" x2="401.42" y2="482.20" stroke="#404040" stroke-width="1.2" />
<line x1="416.09" y1="485.70" x2="416.09" y2="483.50" stroke="#404040" stroke-width="1.2" />
<line x1="430.75" y1="485.70" x2="430.75" y2="482.20" stroke="#404040" stroke-width="1.2" />
<line x1="445.42" y1="485.70" x2="445.42" y2="483.50" stroke="#404040" stroke-width="1.2" />
<line x1="460.08" y1="485.70" x2="460.08" y2="482.20" stroke="#404040" stroke-width="1.2" />
<line x1="474.75" y1="485.70" x2="474.75" y2="483.50" stroke="#404040" stroke-width="1.2" />
<text x="283.50" y="499.70" font-size="10.3" text-anchor="middle" fill="#111" stroke="#111" stroke-width="0.22" >290</text>
<text x="315.00" y="499.70" font-size="10.3" text-anchor="middle" fill="#111" stroke="#111" stroke-width="0.22" >289</text>
<text x="343.50" y="499.70" font-size="10.3" text-anchor="middle" fill="#111" stroke="#111" stroke-width="0.22" >288</text>
<text x="373.50" y="499.70" font-size="10.3" text-anchor="middle" fill="#111" stroke="#111" stroke-width="0.22" >287</text>
<text x="402.00" y="499.70" font-size="10.3" text-anchor="middle" fill="#111" stroke="#111" stroke-width="0.22" >286</text>
<text x="433.50" y="499.70" font-size="10.3" text-anchor="middle" fill="#111" stroke="#111" stroke-width="0.22" >285</text>
<text x="459.60" y="499.70" font-size="10.3" text-anchor="middle" fill="#111" stroke="#111" stroke-width="0.22" >284</text>
<text x="487.20" y="499.70" font-size="10.3" text-anchor="middle" fill="#111" stroke="#111" stroke-width="0.22" >283</text>
<text x="394.80" y="513.90" font-size="10.8" text-anchor="middle" fill="#111" stroke="#111" stroke-width="0.22" >Blinding energy (eV)</text>
<line x1="295.00" y1="400.70" x2="302.00" y2="400.70" stroke="#f028f0" stroke-width="1.6" />
<text x="307.50" y="406.30" font-size="10.8" text-anchor="start" fill="#111" stroke="#111" stroke-width="0.22" >O=C–OH</text>
<line x1="295.00" y1="410.80" x2="302.00" y2="410.80" stroke="#2a2ae8" stroke-width="1.6" />
<text x="307.50" y="416.20" font-size="10.8" text-anchor="start" fill="#111" stroke="#111" stroke-width="0.22" >C=O</text>
<line x1="295.00" y1="421.40" x2="302.00" y2="421.40" stroke="#26e026" stroke-width="1.6" />
<text x="307.50" y="426.60" font-size="10.8" text-anchor="start" fill="#111" stroke="#111" stroke-width="0.22" >C–OH</text>
<line x1="295.00" y1="431.60" x2="302.00" y2="431.60" stroke="#f02020" stroke-width="1.6" />
<text x="307.50" y="436.70" font-size="10.8" text-anchor="start" fill="#111" stroke="#111" stroke-width="0.22" >C–C, C=C</text>
<rect x="470.20" y="386.60" width="24.20" height="23.20" fill="#0a72c6"/>
<text x="482.30" y="401.00" font-size="12.5" font-weight="bold" text-anchor="middle" fill="#fff">e</text>
</svg>
</body></html>
